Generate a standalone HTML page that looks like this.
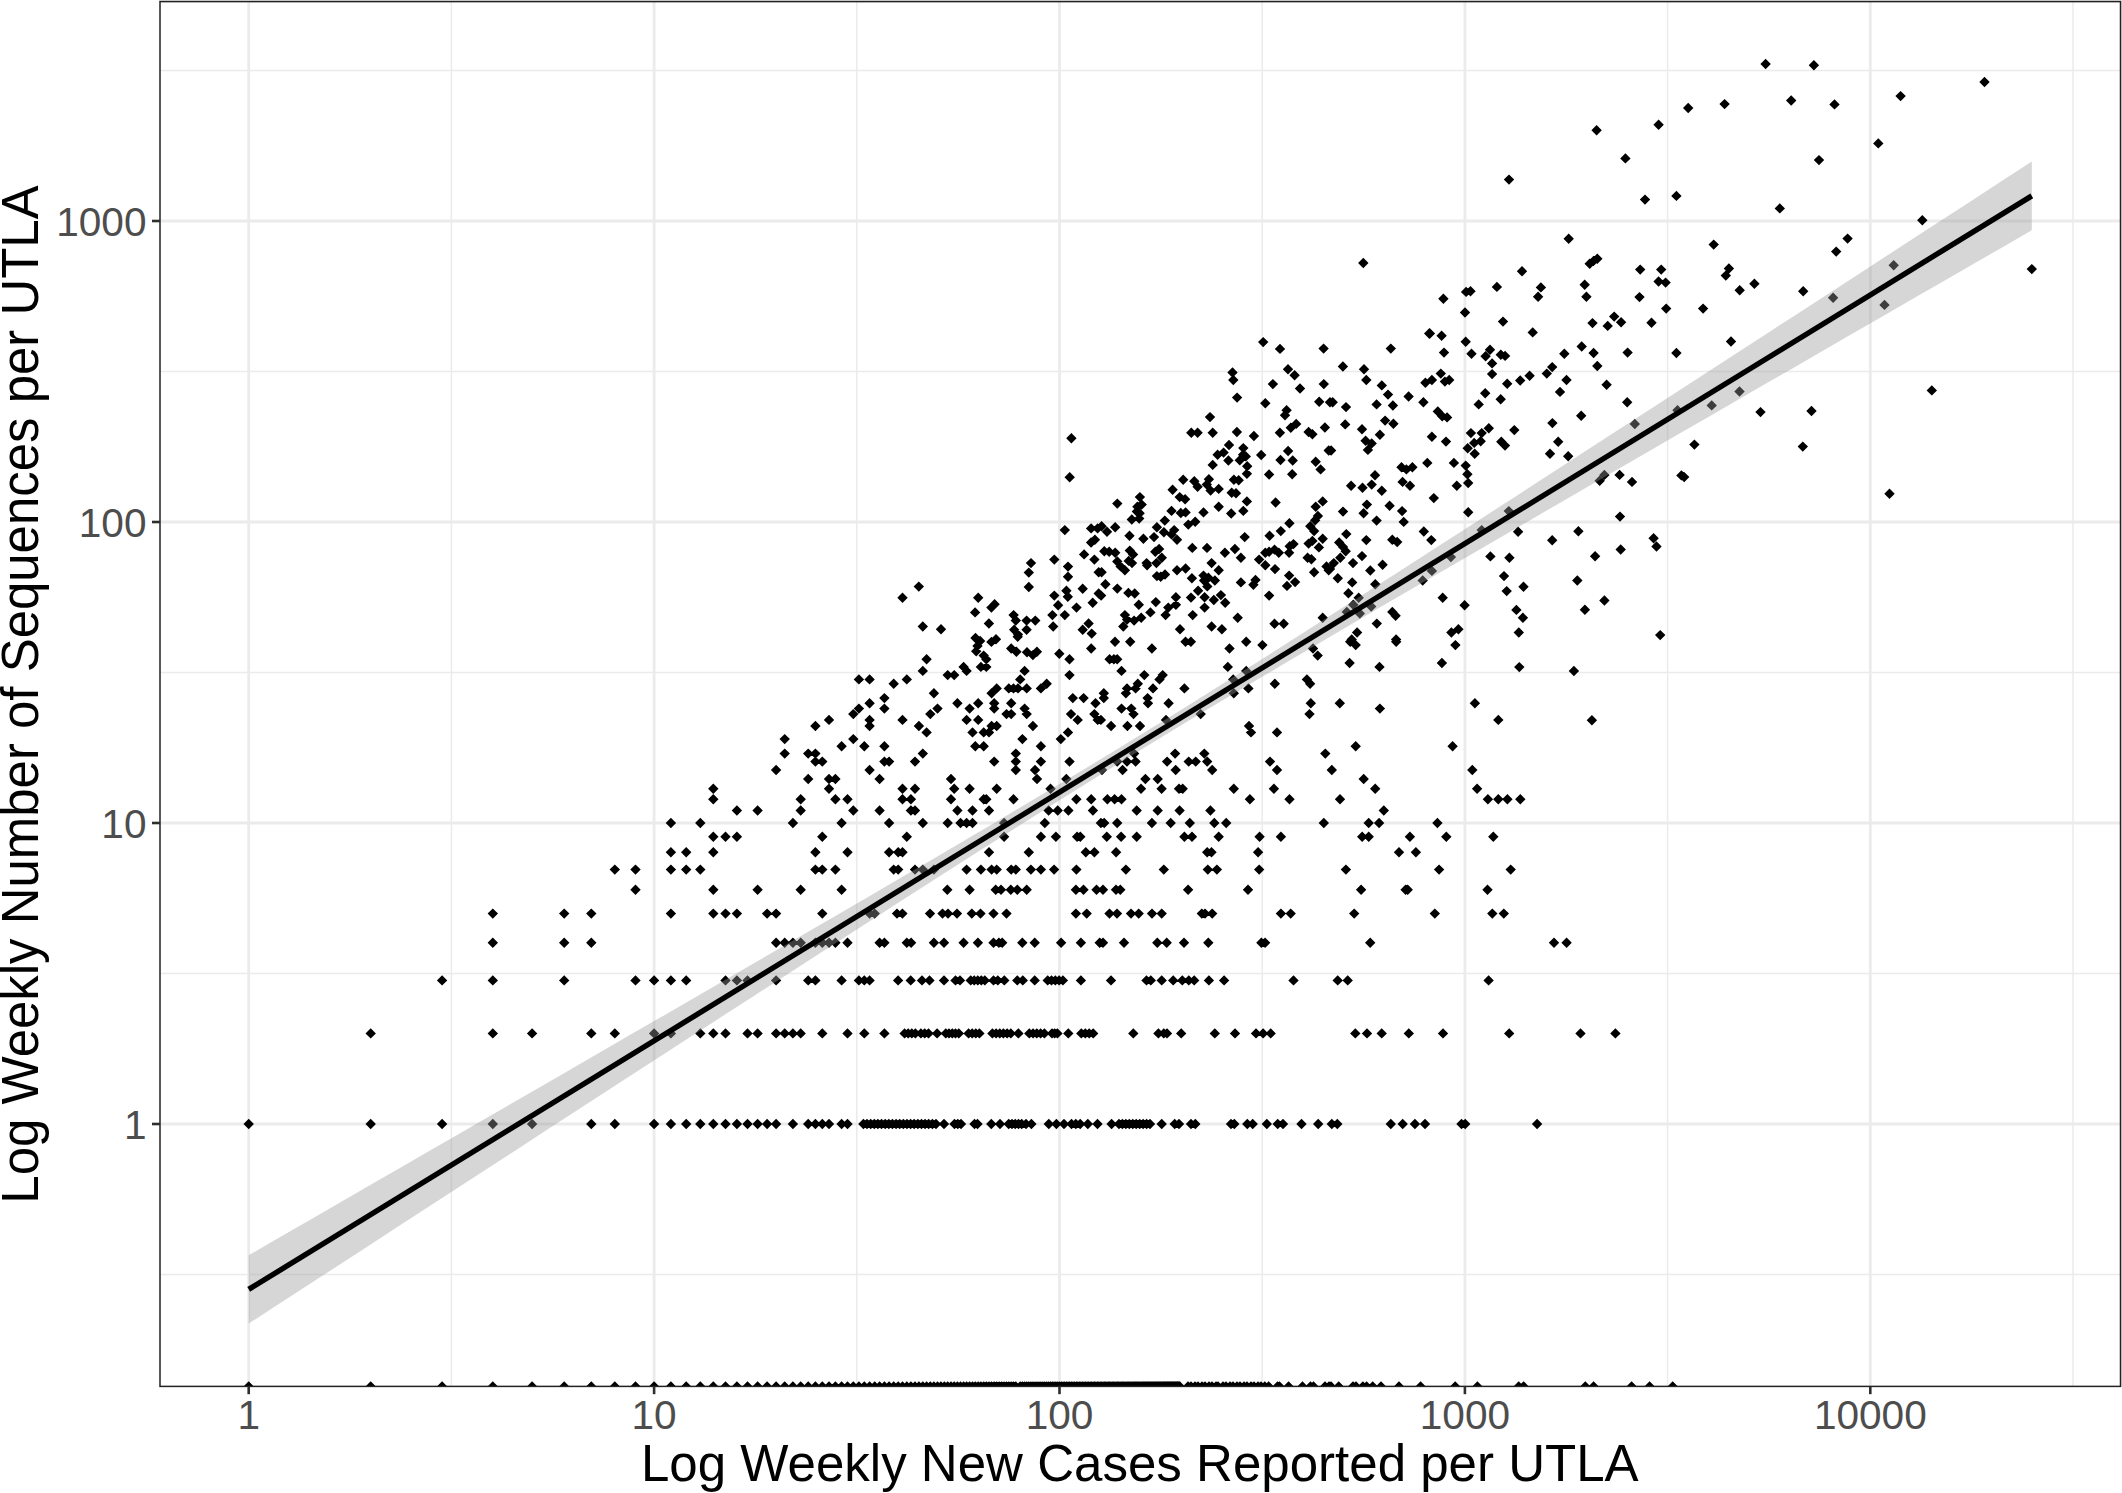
<!DOCTYPE html>
<html><head><meta charset="utf-8"><title>Log Weekly Sequences vs Cases per UTLA</title>
<style>html,body{margin:0;padding:0;background:#fff;}body{width:2122px;height:1493px;position:relative;overflow:hidden;font-family:"Liberation Sans",sans-serif;}svg text{font-family:"Liberation Sans",sans-serif;}</style></head>
<body>
<svg width="2122" height="1493" viewBox="0 0 2122 1493" style="position:absolute;left:0;top:0">
<rect x="0" y="0" width="2122" height="1493" fill="#fff"/>
<defs><clipPath id="c"><rect x="160.0" y="1.6" width="1960.5" height="1384.8000000000002"/></clipPath></defs>
<g clip-path="url(#c)">
<line x1="451.4" x2="451.4" y1="1.6" y2="1386.4" stroke="#ebebeb" stroke-width="1.5"/>
<line x1="856.8" x2="856.8" y1="1.6" y2="1386.4" stroke="#ebebeb" stroke-width="1.5"/>
<line x1="1262.2" x2="1262.2" y1="1.6" y2="1386.4" stroke="#ebebeb" stroke-width="1.5"/>
<line x1="1667.6" x2="1667.6" y1="1.6" y2="1386.4" stroke="#ebebeb" stroke-width="1.5"/>
<line x1="2073.0" x2="2073.0" y1="1.6" y2="1386.4" stroke="#ebebeb" stroke-width="1.5"/>
<line y1="1274.5" y2="1274.5" x1="160.0" x2="2120.5" stroke="#ebebeb" stroke-width="1.5"/>
<line y1="973.5" y2="973.5" x1="160.0" x2="2120.5" stroke="#ebebeb" stroke-width="1.5"/>
<line y1="672.5" y2="672.5" x1="160.0" x2="2120.5" stroke="#ebebeb" stroke-width="1.5"/>
<line y1="371.5" y2="371.5" x1="160.0" x2="2120.5" stroke="#ebebeb" stroke-width="1.5"/>
<line y1="70.5" y2="70.5" x1="160.0" x2="2120.5" stroke="#ebebeb" stroke-width="1.5"/>
<line x1="248.7" x2="248.7" y1="1.6" y2="1386.4" stroke="#ebebeb" stroke-width="2.8"/>
<line x1="654.1" x2="654.1" y1="1.6" y2="1386.4" stroke="#ebebeb" stroke-width="2.8"/>
<line x1="1059.5" x2="1059.5" y1="1.6" y2="1386.4" stroke="#ebebeb" stroke-width="2.8"/>
<line x1="1464.9" x2="1464.9" y1="1.6" y2="1386.4" stroke="#ebebeb" stroke-width="2.8"/>
<line x1="1870.3" x2="1870.3" y1="1.6" y2="1386.4" stroke="#ebebeb" stroke-width="2.8"/>
<line y1="1124.0" y2="1124.0" x1="160.0" x2="2120.5" stroke="#ebebeb" stroke-width="2.8"/>
<line y1="823.0" y2="823.0" x1="160.0" x2="2120.5" stroke="#ebebeb" stroke-width="2.8"/>
<line y1="522.0" y2="522.0" x1="160.0" x2="2120.5" stroke="#ebebeb" stroke-width="2.8"/>
<line y1="221.0" y2="221.0" x1="160.0" x2="2120.5" stroke="#ebebeb" stroke-width="2.8"/>
<path d="M1519.3 661.9l5.2 5.2l-5.2 5.2l-5.2 -5.2zM1573.9 665.8l5.2 5.2l-5.2 5.2l-5.2 -5.2zM1591.9 715.0l5.2 5.2l-5.2 5.2l-5.2 -5.2zM1520.3 794.1l5.2 5.2l-5.2 5.2l-5.2 -5.2zM902.5 592.6l5.2 5.2l-5.2 5.2l-5.2 -5.2zM918.8 581.4l5.2 5.2l-5.2 5.2l-5.2 -5.2zM922.8 621.3l5.2 5.2l-5.2 5.2l-5.2 -5.2zM941.0 624.0l5.2 5.2l-5.2 5.2l-5.2 -5.2zM978.2 592.6l5.2 5.2l-5.2 5.2l-5.2 -5.2zM975.1 607.2l5.2 5.2l-5.2 5.2l-5.2 -5.2zM991.4 602.4l5.2 5.2l-5.2 5.2l-5.2 -5.2zM994.6 599.1l5.2 5.2l-5.2 5.2l-5.2 -5.2zM988.9 618.3l5.2 5.2l-5.2 5.2l-5.2 -5.2zM1013.6 609.9l5.2 5.2l-5.2 5.2l-5.2 -5.2zM1015.8 615.4l5.2 5.2l-5.2 5.2l-5.2 -5.2zM1014.2 624.6l5.2 5.2l-5.2 5.2l-5.2 -5.2zM1018.0 629.4l5.2 5.2l-5.2 5.2l-5.2 -5.2zM1026.6 615.4l5.2 5.2l-5.2 5.2l-5.2 -5.2zM1035.3 615.4l5.2 5.2l-5.2 5.2l-5.2 -5.2zM1026.6 624.6l5.2 5.2l-5.2 5.2l-5.2 -5.2zM1028.8 581.8l5.2 5.2l-5.2 5.2l-5.2 -5.2zM1028.8 567.4l5.2 5.2l-5.2 5.2l-5.2 -5.2zM1031.0 557.9l5.2 5.2l-5.2 5.2l-5.2 -5.2zM1054.3 554.4l5.2 5.2l-5.2 5.2l-5.2 -5.2zM1054.3 590.4l5.2 5.2l-5.2 5.2l-5.2 -5.2zM1058.1 600.0l5.2 5.2l-5.2 5.2l-5.2 -5.2zM1052.4 609.9l5.2 5.2l-5.2 5.2l-5.2 -5.2zM1053.2 621.3l5.2 5.2l-5.2 5.2l-5.2 -5.2zM1064.8 524.9l5.2 5.2l-5.2 5.2l-5.2 -5.2zM1068.0 561.4l5.2 5.2l-5.2 5.2l-5.2 -5.2zM1068.0 571.5l5.2 5.2l-5.2 5.2l-5.2 -5.2zM1066.4 585.6l5.2 5.2l-5.2 5.2l-5.2 -5.2zM1067.8 591.5l5.2 5.2l-5.2 5.2l-5.2 -5.2zM1064.8 609.9l5.2 5.2l-5.2 5.2l-5.2 -5.2zM1076.5 602.4l5.2 5.2l-5.2 5.2l-5.2 -5.2zM1082.7 583.6l5.2 5.2l-5.2 5.2l-5.2 -5.2zM1084.1 549.2l5.2 5.2l-5.2 5.2l-5.2 -5.2zM1091.1 537.3l5.2 5.2l-5.2 5.2l-5.2 -5.2zM1094.9 534.6l5.2 5.2l-5.2 5.2l-5.2 -5.2zM1091.1 523.2l5.2 5.2l-5.2 5.2l-5.2 -5.2zM1097.6 523.2l5.2 5.2l-5.2 5.2l-5.2 -5.2zM1094.4 554.4l5.2 5.2l-5.2 5.2l-5.2 -5.2zM1098.7 567.1l5.2 5.2l-5.2 5.2l-5.2 -5.2zM1098.7 588.3l5.2 5.2l-5.2 5.2l-5.2 -5.2zM1092.7 597.5l5.2 5.2l-5.2 5.2l-5.2 -5.2zM1088.6 618.3l5.2 5.2l-5.2 5.2l-5.2 -5.2zM1082.7 624.6l5.2 5.2l-5.2 5.2l-5.2 -5.2zM1091.7 628.4l5.2 5.2l-5.2 5.2l-5.2 -5.2zM1136.9 506.4l5.2 5.2l-5.2 5.2l-5.2 -5.2zM1139.6 508.1l5.2 5.2l-5.2 5.2l-5.2 -5.2zM1171.5 505.7l5.2 5.2l-5.2 5.2l-5.2 -5.2zM1180.8 507.8l5.2 5.2l-5.2 5.2l-5.2 -5.2zM1185.6 507.2l5.2 5.2l-5.2 5.2l-5.2 -5.2zM1203.5 507.2l5.2 5.2l-5.2 5.2l-5.2 -5.2zM1231.2 508.3l5.2 5.2l-5.2 5.2l-5.2 -5.2zM1243.3 505.7l5.2 5.2l-5.2 5.2l-5.2 -5.2zM1317.9 510.8l5.2 5.2l-5.2 5.2l-5.2 -5.2zM1131.8 514.3l5.2 5.2l-5.2 5.2l-5.2 -5.2zM1139.2 513.3l5.2 5.2l-5.2 5.2l-5.2 -5.2zM1164.8 515.4l5.2 5.2l-5.2 5.2l-5.2 -5.2zM1195.2 516.5l5.2 5.2l-5.2 5.2l-5.2 -5.2zM1188.3 519.4l5.2 5.2l-5.2 5.2l-5.2 -5.2zM1289.4 518.0l5.2 5.2l-5.2 5.2l-5.2 -5.2zM1315.2 515.1l5.2 5.2l-5.2 5.2l-5.2 -5.2zM1310.3 521.1l5.2 5.2l-5.2 5.2l-5.2 -5.2zM1101.6 521.1l5.2 5.2l-5.2 5.2l-5.2 -5.2zM1115.2 522.1l5.2 5.2l-5.2 5.2l-5.2 -5.2zM1107.0 526.5l5.2 5.2l-5.2 5.2l-5.2 -5.2zM1156.9 522.1l5.2 5.2l-5.2 5.2l-5.2 -5.2zM1163.9 527.0l5.2 5.2l-5.2 5.2l-5.2 -5.2zM1174.2 524.9l5.2 5.2l-5.2 5.2l-5.2 -5.2zM1171.5 529.2l5.2 5.2l-5.2 5.2l-5.2 -5.2zM1280.8 525.9l5.2 5.2l-5.2 5.2l-5.2 -5.2zM1314.1 525.9l5.2 5.2l-5.2 5.2l-5.2 -5.2zM1269.6 530.6l5.2 5.2l-5.2 5.2l-5.2 -5.2zM1129.5 530.6l5.2 5.2l-5.2 5.2l-5.2 -5.2zM1143.4 533.5l5.2 5.2l-5.2 5.2l-5.2 -5.2zM1154.0 531.9l5.2 5.2l-5.2 5.2l-5.2 -5.2zM1177.0 534.6l5.2 5.2l-5.2 5.2l-5.2 -5.2zM1244.7 531.9l5.2 5.2l-5.2 5.2l-5.2 -5.2zM1322.7 533.5l5.2 5.2l-5.2 5.2l-5.2 -5.2zM1293.5 538.9l5.2 5.2l-5.2 5.2l-5.2 -5.2zM1289.7 541.1l5.2 5.2l-5.2 5.2l-5.2 -5.2zM1308.6 538.4l5.2 5.2l-5.2 5.2l-5.2 -5.2zM1312.4 535.7l5.2 5.2l-5.2 5.2l-5.2 -5.2zM1318.9 542.2l5.2 5.2l-5.2 5.2l-5.2 -5.2zM1192.3 542.7l5.2 5.2l-5.2 5.2l-5.2 -5.2zM1207.0 542.7l5.2 5.2l-5.2 5.2l-5.2 -5.2zM1234.9 543.8l5.2 5.2l-5.2 5.2l-5.2 -5.2zM1224.9 547.6l5.2 5.2l-5.2 5.2l-5.2 -5.2zM1240.9 552.5l5.2 5.2l-5.2 5.2l-5.2 -5.2zM1104.3 546.0l5.2 5.2l-5.2 5.2l-5.2 -5.2zM1109.2 546.5l5.2 5.2l-5.2 5.2l-5.2 -5.2zM1115.2 547.6l5.2 5.2l-5.2 5.2l-5.2 -5.2zM1129.8 545.4l5.2 5.2l-5.2 5.2l-5.2 -5.2zM1133.1 549.2l5.2 5.2l-5.2 5.2l-5.2 -5.2zM1159.1 543.8l5.2 5.2l-5.2 5.2l-5.2 -5.2zM1155.3 546.5l5.2 5.2l-5.2 5.2l-5.2 -5.2zM1161.8 552.5l5.2 5.2l-5.2 5.2l-5.2 -5.2zM1274.5 544.4l5.2 5.2l-5.2 5.2l-5.2 -5.2zM1278.8 547.6l5.2 5.2l-5.2 5.2l-5.2 -5.2zM1269.1 546.5l5.2 5.2l-5.2 5.2l-5.2 -5.2zM1265.3 547.6l5.2 5.2l-5.2 5.2l-5.2 -5.2zM1289.1 547.6l5.2 5.2l-5.2 5.2l-5.2 -5.2zM1307.6 552.5l5.2 5.2l-5.2 5.2l-5.2 -5.2zM1311.4 554.1l5.2 5.2l-5.2 5.2l-5.2 -5.2zM1259.1 554.4l5.2 5.2l-5.2 5.2l-5.2 -5.2zM1117.3 556.3l5.2 5.2l-5.2 5.2l-5.2 -5.2zM1128.7 555.7l5.2 5.2l-5.2 5.2l-5.2 -5.2zM1132.0 557.9l5.2 5.2l-5.2 5.2l-5.2 -5.2zM1146.6 557.9l5.2 5.2l-5.2 5.2l-5.2 -5.2zM1147.1 560.1l5.2 5.2l-5.2 5.2l-5.2 -5.2zM1156.4 557.9l5.2 5.2l-5.2 5.2l-5.2 -5.2zM1120.6 561.2l5.2 5.2l-5.2 5.2l-5.2 -5.2zM1124.9 565.0l5.2 5.2l-5.2 5.2l-5.2 -5.2zM1177.0 565.0l5.2 5.2l-5.2 5.2l-5.2 -5.2zM1185.6 563.3l5.2 5.2l-5.2 5.2l-5.2 -5.2zM1211.6 557.9l5.2 5.2l-5.2 5.2l-5.2 -5.2zM1218.7 565.0l5.2 5.2l-5.2 5.2l-5.2 -5.2zM1265.3 560.1l5.2 5.2l-5.2 5.2l-5.2 -5.2zM1275.0 563.9l5.2 5.2l-5.2 5.2l-5.2 -5.2zM1326.5 561.2l5.2 5.2l-5.2 5.2l-5.2 -5.2zM1328.7 565.0l5.2 5.2l-5.2 5.2l-5.2 -5.2zM1314.1 567.1l5.2 5.2l-5.2 5.2l-5.2 -5.2zM1101.6 567.1l5.2 5.2l-5.2 5.2l-5.2 -5.2zM1156.9 570.9l5.2 5.2l-5.2 5.2l-5.2 -5.2zM1160.7 571.5l5.2 5.2l-5.2 5.2l-5.2 -5.2zM1165.0 569.3l5.2 5.2l-5.2 5.2l-5.2 -5.2zM1191.9 573.1l5.2 5.2l-5.2 5.2l-5.2 -5.2zM1203.5 570.4l5.2 5.2l-5.2 5.2l-5.2 -5.2zM1208.4 572.5l5.2 5.2l-5.2 5.2l-5.2 -5.2zM1204.1 575.3l5.2 5.2l-5.2 5.2l-5.2 -5.2zM1214.9 575.3l5.2 5.2l-5.2 5.2l-5.2 -5.2zM1207.3 581.2l5.2 5.2l-5.2 5.2l-5.2 -5.2zM1240.9 577.2l5.2 5.2l-5.2 5.2l-5.2 -5.2zM1255.5 574.7l5.2 5.2l-5.2 5.2l-5.2 -5.2zM1253.4 579.6l5.2 5.2l-5.2 5.2l-5.2 -5.2zM1289.1 570.4l5.2 5.2l-5.2 5.2l-5.2 -5.2zM1295.1 576.9l5.2 5.2l-5.2 5.2l-5.2 -5.2zM1287.0 580.7l5.2 5.2l-5.2 5.2l-5.2 -5.2zM1105.4 579.0l5.2 5.2l-5.2 5.2l-5.2 -5.2zM1117.3 583.4l5.2 5.2l-5.2 5.2l-5.2 -5.2zM1198.1 585.6l5.2 5.2l-5.2 5.2l-5.2 -5.2zM1128.4 587.7l5.2 5.2l-5.2 5.2l-5.2 -5.2zM1134.7 588.3l5.2 5.2l-5.2 5.2l-5.2 -5.2zM1175.9 592.1l5.2 5.2l-5.2 5.2l-5.2 -5.2zM1191.0 592.4l5.2 5.2l-5.2 5.2l-5.2 -5.2zM1204.6 592.1l5.2 5.2l-5.2 5.2l-5.2 -5.2zM1213.8 594.8l5.2 5.2l-5.2 5.2l-5.2 -5.2zM1220.9 589.9l5.2 5.2l-5.2 5.2l-5.2 -5.2zM1225.2 597.5l5.2 5.2l-5.2 5.2l-5.2 -5.2zM1269.1 590.4l5.2 5.2l-5.2 5.2l-5.2 -5.2zM1101.1 590.4l5.2 5.2l-5.2 5.2l-5.2 -5.2zM1155.8 596.9l5.2 5.2l-5.2 5.2l-5.2 -5.2zM1138.8 599.6l5.2 5.2l-5.2 5.2l-5.2 -5.2zM1175.9 599.6l5.2 5.2l-5.2 5.2l-5.2 -5.2zM1168.3 602.4l5.2 5.2l-5.2 5.2l-5.2 -5.2zM1204.6 602.4l5.2 5.2l-5.2 5.2l-5.2 -5.2zM1150.4 607.2l5.2 5.2l-5.2 5.2l-5.2 -5.2zM1165.6 609.9l5.2 5.2l-5.2 5.2l-5.2 -5.2zM1192.7 609.9l5.2 5.2l-5.2 5.2l-5.2 -5.2zM1237.7 612.6l5.2 5.2l-5.2 5.2l-5.2 -5.2zM1124.9 609.9l5.2 5.2l-5.2 5.2l-5.2 -5.2zM1127.1 614.3l5.2 5.2l-5.2 5.2l-5.2 -5.2zM1134.1 615.4l5.2 5.2l-5.2 5.2l-5.2 -5.2zM1141.2 612.6l5.2 5.2l-5.2 5.2l-5.2 -5.2zM1123.3 621.3l5.2 5.2l-5.2 5.2l-5.2 -5.2zM1322.7 612.6l5.2 5.2l-5.2 5.2l-5.2 -5.2zM1274.5 618.6l5.2 5.2l-5.2 5.2l-5.2 -5.2zM1283.7 618.6l5.2 5.2l-5.2 5.2l-5.2 -5.2zM1211.6 621.3l5.2 5.2l-5.2 5.2l-5.2 -5.2zM1221.9 624.0l5.2 5.2l-5.2 5.2l-5.2 -5.2zM1180.0 624.0l5.2 5.2l-5.2 5.2l-5.2 -5.2zM975.5 632.8l5.2 5.2l-5.2 5.2l-5.2 -5.2zM980.1 635.8l5.2 5.2l-5.2 5.2l-5.2 -5.2zM977.5 640.7l5.2 5.2l-5.2 5.2l-5.2 -5.2zM976.2 646.0l5.2 5.2l-5.2 5.2l-5.2 -5.2zM991.4 636.7l5.2 5.2l-5.2 5.2l-5.2 -5.2zM996.0 634.1l5.2 5.2l-5.2 5.2l-5.2 -5.2zM1017.7 631.5l5.2 5.2l-5.2 5.2l-5.2 -5.2zM1011.2 643.3l5.2 5.2l-5.2 5.2l-5.2 -5.2zM1016.4 646.6l5.2 5.2l-5.2 5.2l-5.2 -5.2zM1027.0 647.0l5.2 5.2l-5.2 5.2l-5.2 -5.2zM1036.9 646.6l5.2 5.2l-5.2 5.2l-5.2 -5.2zM1059.3 648.6l5.2 5.2l-5.2 5.2l-5.2 -5.2zM1032.9 649.9l5.2 5.2l-5.2 5.2l-5.2 -5.2zM1343.0 506.4l5.2 5.2l-5.2 5.2l-5.2 -5.2zM1363.6 508.1l5.2 5.2l-5.2 5.2l-5.2 -5.2zM1402.1 505.9l5.2 5.2l-5.2 5.2l-5.2 -5.2zM1468.2 507.0l5.2 5.2l-5.2 5.2l-5.2 -5.2zM1376.6 515.4l5.2 5.2l-5.2 5.2l-5.2 -5.2zM1403.7 516.7l5.2 5.2l-5.2 5.2l-5.2 -5.2zM1346.3 528.9l5.2 5.2l-5.2 5.2l-5.2 -5.2zM1366.3 534.9l5.2 5.2l-5.2 5.2l-5.2 -5.2zM1392.3 534.6l5.2 5.2l-5.2 5.2l-5.2 -5.2zM1397.2 536.8l5.2 5.2l-5.2 5.2l-5.2 -5.2zM1423.8 526.3l5.2 5.2l-5.2 5.2l-5.2 -5.2zM1431.3 534.9l5.2 5.2l-5.2 5.2l-5.2 -5.2zM1339.2 537.3l5.2 5.2l-5.2 5.2l-5.2 -5.2zM1343.0 541.7l5.2 5.2l-5.2 5.2l-5.2 -5.2zM1345.7 546.0l5.2 5.2l-5.2 5.2l-5.2 -5.2zM1340.3 552.5l5.2 5.2l-5.2 5.2l-5.2 -5.2zM1333.8 557.9l5.2 5.2l-5.2 5.2l-5.2 -5.2zM1330.0 563.9l5.2 5.2l-5.2 5.2l-5.2 -5.2zM1362.0 550.9l5.2 5.2l-5.2 5.2l-5.2 -5.2zM1353.0 557.9l5.2 5.2l-5.2 5.2l-5.2 -5.2zM1382.6 559.5l5.2 5.2l-5.2 5.2l-5.2 -5.2zM1370.3 565.3l5.2 5.2l-5.2 5.2l-5.2 -5.2zM1337.8 573.1l5.2 5.2l-5.2 5.2l-5.2 -5.2zM1352.2 577.2l5.2 5.2l-5.2 5.2l-5.2 -5.2zM1375.3 579.0l5.2 5.2l-5.2 5.2l-5.2 -5.2zM1348.4 588.0l5.2 5.2l-5.2 5.2l-5.2 -5.2zM1358.7 592.6l5.2 5.2l-5.2 5.2l-5.2 -5.2zM1353.3 599.6l5.2 5.2l-5.2 5.2l-5.2 -5.2zM1346.8 606.7l5.2 5.2l-5.2 5.2l-5.2 -5.2zM1359.8 608.3l5.2 5.2l-5.2 5.2l-5.2 -5.2zM1371.2 601.3l5.2 5.2l-5.2 5.2l-5.2 -5.2zM1422.7 575.3l5.2 5.2l-5.2 5.2l-5.2 -5.2zM1431.9 565.7l5.2 5.2l-5.2 5.2l-5.2 -5.2zM1450.9 551.9l5.2 5.2l-5.2 5.2l-5.2 -5.2zM1481.7 524.9l5.2 5.2l-5.2 5.2l-5.2 -5.2zM1508.8 505.9l5.2 5.2l-5.2 5.2l-5.2 -5.2zM1518.1 526.5l5.2 5.2l-5.2 5.2l-5.2 -5.2zM1552.2 535.1l5.2 5.2l-5.2 5.2l-5.2 -5.2zM1490.4 551.2l5.2 5.2l-5.2 5.2l-5.2 -5.2zM1509.4 552.5l5.2 5.2l-5.2 5.2l-5.2 -5.2zM1504.0 570.9l5.2 5.2l-5.2 5.2l-5.2 -5.2zM1523.5 581.5l5.2 5.2l-5.2 5.2l-5.2 -5.2zM1506.7 585.9l5.2 5.2l-5.2 5.2l-5.2 -5.2zM1442.7 592.6l5.2 5.2l-5.2 5.2l-5.2 -5.2zM1464.6 600.0l5.2 5.2l-5.2 5.2l-5.2 -5.2zM1516.4 604.7l5.2 5.2l-5.2 5.2l-5.2 -5.2zM1522.9 612.6l5.2 5.2l-5.2 5.2l-5.2 -5.2zM1392.3 606.7l5.2 5.2l-5.2 5.2l-5.2 -5.2zM1395.6 610.5l5.2 5.2l-5.2 5.2l-5.2 -5.2zM1376.8 618.4l5.2 5.2l-5.2 5.2l-5.2 -5.2zM1357.1 627.3l5.2 5.2l-5.2 5.2l-5.2 -5.2zM1451.4 627.3l5.2 5.2l-5.2 5.2l-5.2 -5.2zM1458.4 624.0l5.2 5.2l-5.2 5.2l-5.2 -5.2zM1518.8 627.3l5.2 5.2l-5.2 5.2l-5.2 -5.2zM1351.7 634.3l5.2 5.2l-5.2 5.2l-5.2 -5.2zM1396.1 634.3l5.2 5.2l-5.2 5.2l-5.2 -5.2zM1566.5 374.8l5.2 5.2l-5.2 5.2l-5.2 -5.2zM1606.6 379.6l5.2 5.2l-5.2 5.2l-5.2 -5.2zM1627.2 397.1l5.2 5.2l-5.2 5.2l-5.2 -5.2zM1581.2 410.6l5.2 5.2l-5.2 5.2l-5.2 -5.2zM1634.8 418.8l5.2 5.2l-5.2 5.2l-5.2 -5.2zM1677.5 405.1l5.2 5.2l-5.2 5.2l-5.2 -5.2zM1711.7 400.2l5.2 5.2l-5.2 5.2l-5.2 -5.2zM1739.5 386.3l5.2 5.2l-5.2 5.2l-5.2 -5.2zM1760.5 406.9l5.2 5.2l-5.2 5.2l-5.2 -5.2zM1811.5 405.8l5.2 5.2l-5.2 5.2l-5.2 -5.2zM1931.8 385.2l5.2 5.2l-5.2 5.2l-5.2 -5.2zM1568.2 451.1l5.2 5.2l-5.2 5.2l-5.2 -5.2zM1694.4 439.4l5.2 5.2l-5.2 5.2l-5.2 -5.2zM1802.8 441.4l5.2 5.2l-5.2 5.2l-5.2 -5.2zM1604.4 469.7l5.2 5.2l-5.2 5.2l-5.2 -5.2zM1599.7 475.6l5.2 5.2l-5.2 5.2l-5.2 -5.2zM1619.6 469.7l5.2 5.2l-5.2 5.2l-5.2 -5.2zM1632.0 476.7l5.2 5.2l-5.2 5.2l-5.2 -5.2zM1681.4 470.2l5.2 5.2l-5.2 5.2l-5.2 -5.2zM1684.2 471.9l5.2 5.2l-5.2 5.2l-5.2 -5.2zM1889.5 488.6l5.2 5.2l-5.2 5.2l-5.2 -5.2zM1620.0 511.4l5.2 5.2l-5.2 5.2l-5.2 -5.2zM1578.4 526.1l5.2 5.2l-5.2 5.2l-5.2 -5.2zM1653.6 533.0l5.2 5.2l-5.2 5.2l-5.2 -5.2zM1656.5 541.3l5.2 5.2l-5.2 5.2l-5.2 -5.2zM1620.7 544.3l5.2 5.2l-5.2 5.2l-5.2 -5.2zM1595.1 551.0l5.2 5.2l-5.2 5.2l-5.2 -5.2zM1577.3 575.3l5.2 5.2l-5.2 5.2l-5.2 -5.2zM1604.4 595.3l5.2 5.2l-5.2 5.2l-5.2 -5.2zM1584.9 604.6l5.2 5.2l-5.2 5.2l-5.2 -5.2zM1660.2 629.9l5.2 5.2l-5.2 5.2l-5.2 -5.2zM1233.3 374.8l5.2 5.2l-5.2 5.2l-5.2 -5.2zM1272.9 378.9l5.2 5.2l-5.2 5.2l-5.2 -5.2zM1300.0 383.3l5.2 5.2l-5.2 5.2l-5.2 -5.2zM1323.8 378.9l5.2 5.2l-5.2 5.2l-5.2 -5.2zM1237.1 392.4l5.2 5.2l-5.2 5.2l-5.2 -5.2zM1265.3 398.1l5.2 5.2l-5.2 5.2l-5.2 -5.2zM1319.2 396.5l5.2 5.2l-5.2 5.2l-5.2 -5.2zM1330.0 397.0l5.2 5.2l-5.2 5.2l-5.2 -5.2zM1286.6 405.1l5.2 5.2l-5.2 5.2l-5.2 -5.2zM1285.0 410.0l5.2 5.2l-5.2 5.2l-5.2 -5.2zM1210.0 411.9l5.2 5.2l-5.2 5.2l-5.2 -5.2zM1296.2 418.7l5.2 5.2l-5.2 5.2l-5.2 -5.2zM1290.8 422.5l5.2 5.2l-5.2 5.2l-5.2 -5.2zM1324.9 422.3l5.2 5.2l-5.2 5.2l-5.2 -5.2zM1191.3 427.6l5.2 5.2l-5.2 5.2l-5.2 -5.2zM1197.6 427.6l5.2 5.2l-5.2 5.2l-5.2 -5.2zM1212.7 427.6l5.2 5.2l-5.2 5.2l-5.2 -5.2zM1236.9 426.8l5.2 5.2l-5.2 5.2l-5.2 -5.2zM1253.9 430.8l5.2 5.2l-5.2 5.2l-5.2 -5.2zM1279.9 427.6l5.2 5.2l-5.2 5.2l-5.2 -5.2zM1308.6 426.8l5.2 5.2l-5.2 5.2l-5.2 -5.2zM1312.4 429.0l5.2 5.2l-5.2 5.2l-5.2 -5.2zM1229.0 439.8l5.2 5.2l-5.2 5.2l-5.2 -5.2zM1243.3 442.9l5.2 5.2l-5.2 5.2l-5.2 -5.2zM1223.6 447.4l5.2 5.2l-5.2 5.2l-5.2 -5.2zM1217.6 449.6l5.2 5.2l-5.2 5.2l-5.2 -5.2zM1243.1 449.6l5.2 5.2l-5.2 5.2l-5.2 -5.2zM1245.8 451.2l5.2 5.2l-5.2 5.2l-5.2 -5.2zM1239.8 455.0l5.2 5.2l-5.2 5.2l-5.2 -5.2zM1228.4 455.3l5.2 5.2l-5.2 5.2l-5.2 -5.2zM1261.2 449.8l5.2 5.2l-5.2 5.2l-5.2 -5.2zM1288.1 445.8l5.2 5.2l-5.2 5.2l-5.2 -5.2zM1328.7 445.3l5.2 5.2l-5.2 5.2l-5.2 -5.2zM1280.5 454.8l5.2 5.2l-5.2 5.2l-5.2 -5.2zM1292.7 455.3l5.2 5.2l-5.2 5.2l-5.2 -5.2zM1315.7 456.6l5.2 5.2l-5.2 5.2l-5.2 -5.2zM1212.7 459.7l5.2 5.2l-5.2 5.2l-5.2 -5.2zM1247.2 461.0l5.2 5.2l-5.2 5.2l-5.2 -5.2zM1246.9 468.6l5.2 5.2l-5.2 5.2l-5.2 -5.2zM1320.6 464.2l5.2 5.2l-5.2 5.2l-5.2 -5.2zM1269.1 469.3l5.2 5.2l-5.2 5.2l-5.2 -5.2zM1292.2 469.1l5.2 5.2l-5.2 5.2l-5.2 -5.2zM1183.2 474.5l5.2 5.2l-5.2 5.2l-5.2 -5.2zM1194.3 476.1l5.2 5.2l-5.2 5.2l-5.2 -5.2zM1197.6 481.6l5.2 5.2l-5.2 5.2l-5.2 -5.2zM1208.9 474.0l5.2 5.2l-5.2 5.2l-5.2 -5.2zM1206.8 479.4l5.2 5.2l-5.2 5.2l-5.2 -5.2zM1210.6 485.4l5.2 5.2l-5.2 5.2l-5.2 -5.2zM1218.7 483.7l5.2 5.2l-5.2 5.2l-5.2 -5.2zM1233.9 474.5l5.2 5.2l-5.2 5.2l-5.2 -5.2zM1238.7 475.1l5.2 5.2l-5.2 5.2l-5.2 -5.2zM1231.7 487.5l5.2 5.2l-5.2 5.2l-5.2 -5.2zM1236.0 488.1l5.2 5.2l-5.2 5.2l-5.2 -5.2zM1172.6 484.5l5.2 5.2l-5.2 5.2l-5.2 -5.2zM1179.7 491.9l5.2 5.2l-5.2 5.2l-5.2 -5.2zM1185.1 494.0l5.2 5.2l-5.2 5.2l-5.2 -5.2zM1139.9 491.9l5.2 5.2l-5.2 5.2l-5.2 -5.2zM1141.7 499.4l5.2 5.2l-5.2 5.2l-5.2 -5.2zM1137.4 501.6l5.2 5.2l-5.2 5.2l-5.2 -5.2zM1117.3 498.4l5.2 5.2l-5.2 5.2l-5.2 -5.2zM1246.9 496.2l5.2 5.2l-5.2 5.2l-5.2 -5.2zM1275.6 497.3l5.2 5.2l-5.2 5.2l-5.2 -5.2zM1322.7 496.2l5.2 5.2l-5.2 5.2l-5.2 -5.2zM1315.7 501.6l5.2 5.2l-5.2 5.2l-5.2 -5.2zM1218.7 501.6l5.2 5.2l-5.2 5.2l-5.2 -5.2zM1071.4 433.1l5.2 5.2l-5.2 5.2l-5.2 -5.2zM1069.7 472.0l5.2 5.2l-5.2 5.2l-5.2 -5.2zM1366.3 374.8l5.2 5.2l-5.2 5.2l-5.2 -5.2zM1381.8 380.2l5.2 5.2l-5.2 5.2l-5.2 -5.2zM1388.0 389.4l5.2 5.2l-5.2 5.2l-5.2 -5.2zM1408.6 391.3l5.2 5.2l-5.2 5.2l-5.2 -5.2zM1425.4 377.5l5.2 5.2l-5.2 5.2l-5.2 -5.2zM1431.9 374.8l5.2 5.2l-5.2 5.2l-5.2 -5.2zM1444.9 376.4l5.2 5.2l-5.2 5.2l-5.2 -5.2zM1449.2 374.8l5.2 5.2l-5.2 5.2l-5.2 -5.2zM1507.2 378.6l5.2 5.2l-5.2 5.2l-5.2 -5.2zM1520.2 375.3l5.2 5.2l-5.2 5.2l-5.2 -5.2zM1485.2 388.0l5.2 5.2l-5.2 5.2l-5.2 -5.2zM1500.7 394.1l5.2 5.2l-5.2 5.2l-5.2 -5.2zM1478.7 399.2l5.2 5.2l-5.2 5.2l-5.2 -5.2zM1560.0 386.7l5.2 5.2l-5.2 5.2l-5.2 -5.2zM1332.7 397.0l5.2 5.2l-5.2 5.2l-5.2 -5.2zM1346.0 401.9l5.2 5.2l-5.2 5.2l-5.2 -5.2zM1376.6 399.2l5.2 5.2l-5.2 5.2l-5.2 -5.2zM1392.9 400.3l5.2 5.2l-5.2 5.2l-5.2 -5.2zM1423.4 397.0l5.2 5.2l-5.2 5.2l-5.2 -5.2zM1437.8 406.2l5.2 5.2l-5.2 5.2l-5.2 -5.2zM1442.2 411.1l5.2 5.2l-5.2 5.2l-5.2 -5.2zM1447.1 412.2l5.2 5.2l-5.2 5.2l-5.2 -5.2zM1345.2 419.2l5.2 5.2l-5.2 5.2l-5.2 -5.2zM1385.1 415.4l5.2 5.2l-5.2 5.2l-5.2 -5.2zM1393.4 418.5l5.2 5.2l-5.2 5.2l-5.2 -5.2zM1362.0 424.1l5.2 5.2l-5.2 5.2l-5.2 -5.2zM1379.9 429.5l5.2 5.2l-5.2 5.2l-5.2 -5.2zM1552.4 417.9l5.2 5.2l-5.2 5.2l-5.2 -5.2zM1488.8 423.0l5.2 5.2l-5.2 5.2l-5.2 -5.2zM1514.3 424.9l5.2 5.2l-5.2 5.2l-5.2 -5.2zM1470.9 427.9l5.2 5.2l-5.2 5.2l-5.2 -5.2zM1481.7 427.9l5.2 5.2l-5.2 5.2l-5.2 -5.2zM1431.9 431.5l5.2 5.2l-5.2 5.2l-5.2 -5.2zM1446.0 436.4l5.2 5.2l-5.2 5.2l-5.2 -5.2zM1480.7 436.0l5.2 5.2l-5.2 5.2l-5.2 -5.2zM1474.2 437.7l5.2 5.2l-5.2 5.2l-5.2 -5.2zM1467.7 443.1l5.2 5.2l-5.2 5.2l-5.2 -5.2zM1501.3 436.6l5.2 5.2l-5.2 5.2l-5.2 -5.2zM1505.0 440.4l5.2 5.2l-5.2 5.2l-5.2 -5.2zM1558.2 436.6l5.2 5.2l-5.2 5.2l-5.2 -5.2zM1365.6 435.5l5.2 5.2l-5.2 5.2l-5.2 -5.2zM1371.7 438.2l5.2 5.2l-5.2 5.2l-5.2 -5.2zM1367.9 444.7l5.2 5.2l-5.2 5.2l-5.2 -5.2zM1331.1 445.3l5.2 5.2l-5.2 5.2l-5.2 -5.2zM1474.7 448.5l5.2 5.2l-5.2 5.2l-5.2 -5.2zM1550.0 448.5l5.2 5.2l-5.2 5.2l-5.2 -5.2zM1427.3 457.7l5.2 5.2l-5.2 5.2l-5.2 -5.2zM1453.9 457.7l5.2 5.2l-5.2 5.2l-5.2 -5.2zM1465.7 460.4l5.2 5.2l-5.2 5.2l-5.2 -5.2zM1401.5 462.1l5.2 5.2l-5.2 5.2l-5.2 -5.2zM1406.4 464.2l5.2 5.2l-5.2 5.2l-5.2 -5.2zM1412.4 462.1l5.2 5.2l-5.2 5.2l-5.2 -5.2zM1467.4 469.1l5.2 5.2l-5.2 5.2l-5.2 -5.2zM1375.0 470.0l5.2 5.2l-5.2 5.2l-5.2 -5.2zM1402.6 476.7l5.2 5.2l-5.2 5.2l-5.2 -5.2zM1410.0 480.5l5.2 5.2l-5.2 5.2l-5.2 -5.2zM1456.8 480.5l5.2 5.2l-5.2 5.2l-5.2 -5.2zM1468.2 477.8l5.2 5.2l-5.2 5.2l-5.2 -5.2zM1351.1 480.5l5.2 5.2l-5.2 5.2l-5.2 -5.2zM1362.5 482.6l5.2 5.2l-5.2 5.2l-5.2 -5.2zM1371.7 479.4l5.2 5.2l-5.2 5.2l-5.2 -5.2zM1381.8 485.6l5.2 5.2l-5.2 5.2l-5.2 -5.2zM1433.8 492.9l5.2 5.2l-5.2 5.2l-5.2 -5.2zM1366.9 499.4l5.2 5.2l-5.2 5.2l-5.2 -5.2zM1389.6 500.5l5.2 5.2l-5.2 5.2l-5.2 -5.2zM1363.3 257.8l5.2 5.2l-5.2 5.2l-5.2 -5.2zM1263.2 336.9l5.2 5.2l-5.2 5.2l-5.2 -5.2zM1280.0 343.7l5.2 5.2l-5.2 5.2l-5.2 -5.2zM1323.6 343.4l5.2 5.2l-5.2 5.2l-5.2 -5.2zM1390.8 343.4l5.2 5.2l-5.2 5.2l-5.2 -5.2zM1429.2 328.3l5.2 5.2l-5.2 5.2l-5.2 -5.2zM1288.0 364.0l5.2 5.2l-5.2 5.2l-5.2 -5.2zM1294.6 370.0l5.2 5.2l-5.2 5.2l-5.2 -5.2zM1342.9 361.3l5.2 5.2l-5.2 5.2l-5.2 -5.2zM1364.0 364.0l5.2 5.2l-5.2 5.2l-5.2 -5.2zM1232.5 367.3l5.2 5.2l-5.2 5.2l-5.2 -5.2zM1596.6 125.0l5.2 5.2l-5.2 5.2l-5.2 -5.2zM1658.6 119.6l5.2 5.2l-5.2 5.2l-5.2 -5.2zM1625.4 153.2l5.2 5.2l-5.2 5.2l-5.2 -5.2zM1509.0 174.4l5.2 5.2l-5.2 5.2l-5.2 -5.2zM1645.0 194.4l5.2 5.2l-5.2 5.2l-5.2 -5.2zM1676.4 190.7l5.2 5.2l-5.2 5.2l-5.2 -5.2zM1819.0 154.9l5.2 5.2l-5.2 5.2l-5.2 -5.2zM1779.8 203.2l5.2 5.2l-5.2 5.2l-5.2 -5.2zM1568.7 233.6l5.2 5.2l-5.2 5.2l-5.2 -5.2zM1713.7 239.4l5.2 5.2l-5.2 5.2l-5.2 -5.2zM1847.6 233.4l5.2 5.2l-5.2 5.2l-5.2 -5.2zM1836.2 246.4l5.2 5.2l-5.2 5.2l-5.2 -5.2zM1597.3 253.5l5.2 5.2l-5.2 5.2l-5.2 -5.2zM1589.7 258.5l5.2 5.2l-5.2 5.2l-5.2 -5.2zM1593.6 255.7l5.2 5.2l-5.2 5.2l-5.2 -5.2zM1522.0 266.1l5.2 5.2l-5.2 5.2l-5.2 -5.2zM1640.2 264.4l5.2 5.2l-5.2 5.2l-5.2 -5.2zM1661.2 264.4l5.2 5.2l-5.2 5.2l-5.2 -5.2zM1728.9 263.3l5.2 5.2l-5.2 5.2l-5.2 -5.2zM1725.8 270.4l5.2 5.2l-5.2 5.2l-5.2 -5.2zM1658.6 276.3l5.2 5.2l-5.2 5.2l-5.2 -5.2zM1665.6 277.4l5.2 5.2l-5.2 5.2l-5.2 -5.2zM1754.4 278.5l5.2 5.2l-5.2 5.2l-5.2 -5.2zM1739.7 285.0l5.2 5.2l-5.2 5.2l-5.2 -5.2zM1803.2 286.1l5.2 5.2l-5.2 5.2l-5.2 -5.2zM1833.1 292.6l5.2 5.2l-5.2 5.2l-5.2 -5.2zM1496.9 281.7l5.2 5.2l-5.2 5.2l-5.2 -5.2zM1540.9 282.2l5.2 5.2l-5.2 5.2l-5.2 -5.2zM1538.1 291.5l5.2 5.2l-5.2 5.2l-5.2 -5.2zM1584.7 279.6l5.2 5.2l-5.2 5.2l-5.2 -5.2zM1586.4 291.5l5.2 5.2l-5.2 5.2l-5.2 -5.2zM1639.5 291.9l5.2 5.2l-5.2 5.2l-5.2 -5.2zM1466.1 286.7l5.2 5.2l-5.2 5.2l-5.2 -5.2zM1470.5 286.1l5.2 5.2l-5.2 5.2l-5.2 -5.2zM1443.4 293.6l5.2 5.2l-5.2 5.2l-5.2 -5.2zM1465.0 307.3l5.2 5.2l-5.2 5.2l-5.2 -5.2zM1666.2 303.4l5.2 5.2l-5.2 5.2l-5.2 -5.2zM1703.1 303.4l5.2 5.2l-5.2 5.2l-5.2 -5.2zM1503.0 316.4l5.2 5.2l-5.2 5.2l-5.2 -5.2zM1592.5 317.9l5.2 5.2l-5.2 5.2l-5.2 -5.2zM1614.2 311.4l5.2 5.2l-5.2 5.2l-5.2 -5.2zM1621.1 317.1l5.2 5.2l-5.2 5.2l-5.2 -5.2zM1607.7 320.7l5.2 5.2l-5.2 5.2l-5.2 -5.2zM1651.5 317.5l5.2 5.2l-5.2 5.2l-5.2 -5.2zM1429.9 328.3l5.2 5.2l-5.2 5.2l-5.2 -5.2zM1441.6 330.5l5.2 5.2l-5.2 5.2l-5.2 -5.2zM1532.7 327.2l5.2 5.2l-5.2 5.2l-5.2 -5.2zM1465.7 336.6l5.2 5.2l-5.2 5.2l-5.2 -5.2zM1731.0 336.3l5.2 5.2l-5.2 5.2l-5.2 -5.2zM1444.0 347.4l5.2 5.2l-5.2 5.2l-5.2 -5.2zM1471.5 348.5l5.2 5.2l-5.2 5.2l-5.2 -5.2zM1490.0 344.6l5.2 5.2l-5.2 5.2l-5.2 -5.2zM1485.6 351.1l5.2 5.2l-5.2 5.2l-5.2 -5.2zM1500.8 349.6l5.2 5.2l-5.2 5.2l-5.2 -5.2zM1505.1 350.7l5.2 5.2l-5.2 5.2l-5.2 -5.2zM1492.1 358.2l5.2 5.2l-5.2 5.2l-5.2 -5.2zM1564.3 348.5l5.2 5.2l-5.2 5.2l-5.2 -5.2zM1581.7 341.3l5.2 5.2l-5.2 5.2l-5.2 -5.2zM1593.6 347.8l5.2 5.2l-5.2 5.2l-5.2 -5.2zM1627.6 347.4l5.2 5.2l-5.2 5.2l-5.2 -5.2zM1676.4 347.8l5.2 5.2l-5.2 5.2l-5.2 -5.2zM1597.3 360.8l5.2 5.2l-5.2 5.2l-5.2 -5.2zM1552.2 361.9l5.2 5.2l-5.2 5.2l-5.2 -5.2zM1546.8 368.4l5.2 5.2l-5.2 5.2l-5.2 -5.2zM1492.1 368.9l5.2 5.2l-5.2 5.2l-5.2 -5.2zM1529.6 370.6l5.2 5.2l-5.2 5.2l-5.2 -5.2zM1440.8 368.4l5.2 5.2l-5.2 5.2l-5.2 -5.2zM1765.6 58.8l5.2 5.2l-5.2 5.2l-5.2 -5.2zM1813.9 60.1l5.2 5.2l-5.2 5.2l-5.2 -5.2zM1984.5 76.8l5.2 5.2l-5.2 5.2l-5.2 -5.2zM1900.6 90.9l5.2 5.2l-5.2 5.2l-5.2 -5.2zM1791.2 95.3l5.2 5.2l-5.2 5.2l-5.2 -5.2zM1834.5 99.2l5.2 5.2l-5.2 5.2l-5.2 -5.2zM1724.6 98.9l5.2 5.2l-5.2 5.2l-5.2 -5.2zM1688.2 102.8l5.2 5.2l-5.2 5.2l-5.2 -5.2zM1878.3 138.2l5.2 5.2l-5.2 5.2l-5.2 -5.2zM1922.3 215.1l5.2 5.2l-5.2 5.2l-5.2 -5.2zM1893.7 260.0l5.2 5.2l-5.2 5.2l-5.2 -5.2zM2031.8 263.9l5.2 5.2l-5.2 5.2l-5.2 -5.2zM1884.5 299.7l5.2 5.2l-5.2 5.2l-5.2 -5.2zM248.7 1118.8l5.2 5.2l-5.2 5.2l-5.2 -5.2zM370.7 1118.8l5.2 5.2l-5.2 5.2l-5.2 -5.2zM442.1 1118.8l5.2 5.2l-5.2 5.2l-5.2 -5.2zM492.8 1118.8l5.2 5.2l-5.2 5.2l-5.2 -5.2zM532.1 1118.8l5.2 5.2l-5.2 5.2l-5.2 -5.2zM591.3 1118.8l5.2 5.2l-5.2 5.2l-5.2 -5.2zM614.8 1118.8l5.2 5.2l-5.2 5.2l-5.2 -5.2zM654.1 1118.8l5.2 5.2l-5.2 5.2l-5.2 -5.2zM670.9 1118.8l5.2 5.2l-5.2 5.2l-5.2 -5.2zM686.2 1118.8l5.2 5.2l-5.2 5.2l-5.2 -5.2zM700.3 1118.8l5.2 5.2l-5.2 5.2l-5.2 -5.2zM713.3 1118.8l5.2 5.2l-5.2 5.2l-5.2 -5.2zM725.5 1118.8l5.2 5.2l-5.2 5.2l-5.2 -5.2zM736.9 1118.8l5.2 5.2l-5.2 5.2l-5.2 -5.2zM747.5 1118.8l5.2 5.2l-5.2 5.2l-5.2 -5.2zM757.6 1118.8l5.2 5.2l-5.2 5.2l-5.2 -5.2zM767.1 1118.8l5.2 5.2l-5.2 5.2l-5.2 -5.2zM776.1 1118.8l5.2 5.2l-5.2 5.2l-5.2 -5.2zM792.9 1118.8l5.2 5.2l-5.2 5.2l-5.2 -5.2zM808.2 1118.8l5.2 5.2l-5.2 5.2l-5.2 -5.2zM815.4 1118.8l5.2 5.2l-5.2 5.2l-5.2 -5.2zM822.3 1118.8l5.2 5.2l-5.2 5.2l-5.2 -5.2zM829.0 1118.8l5.2 5.2l-5.2 5.2l-5.2 -5.2zM841.6 1118.8l5.2 5.2l-5.2 5.2l-5.2 -5.2zM847.5 1118.8l5.2 5.2l-5.2 5.2l-5.2 -5.2zM944.0 1118.8l5.2 5.2l-5.2 5.2l-5.2 -5.2zM974.5 1118.8l5.2 5.2l-5.2 5.2l-5.2 -5.2zM977.5 1118.8l5.2 5.2l-5.2 5.2l-5.2 -5.2zM991.3 1118.8l5.2 5.2l-5.2 5.2l-5.2 -5.2zM1000.0 1118.8l5.2 5.2l-5.2 5.2l-5.2 -5.2zM1026.0 1118.8l5.2 5.2l-5.2 5.2l-5.2 -5.2zM1031.4 1118.8l5.2 5.2l-5.2 5.2l-5.2 -5.2zM1048.8 1118.8l5.2 5.2l-5.2 5.2l-5.2 -5.2zM1056.4 1118.8l5.2 5.2l-5.2 5.2l-5.2 -5.2zM1064.0 1118.8l5.2 5.2l-5.2 5.2l-5.2 -5.2zM1087.8 1118.8l5.2 5.2l-5.2 5.2l-5.2 -5.2zM1097.5 1118.8l5.2 5.2l-5.2 5.2l-5.2 -5.2zM1111.6 1118.8l5.2 5.2l-5.2 5.2l-5.2 -5.2zM863.4 1118.8l5.2 5.2l-5.2 5.2l-5.2 -5.2zM867.0 1118.8l5.2 5.2l-5.2 5.2l-5.2 -5.2zM870.7 1118.8l5.2 5.2l-5.2 5.2l-5.2 -5.2zM874.3 1118.8l5.2 5.2l-5.2 5.2l-5.2 -5.2zM877.9 1118.8l5.2 5.2l-5.2 5.2l-5.2 -5.2zM881.5 1118.8l5.2 5.2l-5.2 5.2l-5.2 -5.2zM885.2 1118.8l5.2 5.2l-5.2 5.2l-5.2 -5.2zM888.8 1118.8l5.2 5.2l-5.2 5.2l-5.2 -5.2zM892.4 1118.8l5.2 5.2l-5.2 5.2l-5.2 -5.2zM896.1 1118.8l5.2 5.2l-5.2 5.2l-5.2 -5.2zM899.7 1118.8l5.2 5.2l-5.2 5.2l-5.2 -5.2zM903.3 1118.8l5.2 5.2l-5.2 5.2l-5.2 -5.2zM907.0 1118.8l5.2 5.2l-5.2 5.2l-5.2 -5.2zM910.6 1118.8l5.2 5.2l-5.2 5.2l-5.2 -5.2zM914.2 1118.8l5.2 5.2l-5.2 5.2l-5.2 -5.2zM917.9 1118.8l5.2 5.2l-5.2 5.2l-5.2 -5.2zM921.5 1118.8l5.2 5.2l-5.2 5.2l-5.2 -5.2zM925.1 1118.8l5.2 5.2l-5.2 5.2l-5.2 -5.2zM928.7 1118.8l5.2 5.2l-5.2 5.2l-5.2 -5.2zM932.4 1118.8l5.2 5.2l-5.2 5.2l-5.2 -5.2zM936.0 1118.8l5.2 5.2l-5.2 5.2l-5.2 -5.2zM954.5 1118.8l5.2 5.2l-5.2 5.2l-5.2 -5.2zM957.8 1118.8l5.2 5.2l-5.2 5.2l-5.2 -5.2zM961.0 1118.8l5.2 5.2l-5.2 5.2l-5.2 -5.2zM1008.7 1118.8l5.2 5.2l-5.2 5.2l-5.2 -5.2zM1012.0 1118.8l5.2 5.2l-5.2 5.2l-5.2 -5.2zM1015.2 1118.8l5.2 5.2l-5.2 5.2l-5.2 -5.2zM1018.5 1118.8l5.2 5.2l-5.2 5.2l-5.2 -5.2zM1021.7 1118.8l5.2 5.2l-5.2 5.2l-5.2 -5.2zM1071.5 1118.8l5.2 5.2l-5.2 5.2l-5.2 -5.2zM1075.8 1118.8l5.2 5.2l-5.2 5.2l-5.2 -5.2zM1080.2 1118.8l5.2 5.2l-5.2 5.2l-5.2 -5.2zM1119.0 1118.8l5.2 5.2l-5.2 5.2l-5.2 -5.2zM1122.4 1118.8l5.2 5.2l-5.2 5.2l-5.2 -5.2zM1125.9 1118.8l5.2 5.2l-5.2 5.2l-5.2 -5.2zM1129.3 1118.8l5.2 5.2l-5.2 5.2l-5.2 -5.2zM1132.8 1118.8l5.2 5.2l-5.2 5.2l-5.2 -5.2zM1136.2 1118.8l5.2 5.2l-5.2 5.2l-5.2 -5.2zM1139.7 1118.8l5.2 5.2l-5.2 5.2l-5.2 -5.2zM1143.1 1118.8l5.2 5.2l-5.2 5.2l-5.2 -5.2zM1146.6 1118.8l5.2 5.2l-5.2 5.2l-5.2 -5.2zM1150.0 1118.8l5.2 5.2l-5.2 5.2l-5.2 -5.2zM1161.7 1118.8l5.2 5.2l-5.2 5.2l-5.2 -5.2zM1174.7 1118.8l5.2 5.2l-5.2 5.2l-5.2 -5.2zM1179.0 1118.8l5.2 5.2l-5.2 5.2l-5.2 -5.2zM1191.0 1118.8l5.2 5.2l-5.2 5.2l-5.2 -5.2zM1195.3 1118.8l5.2 5.2l-5.2 5.2l-5.2 -5.2zM1231.0 1118.8l5.2 5.2l-5.2 5.2l-5.2 -5.2zM1234.3 1118.8l5.2 5.2l-5.2 5.2l-5.2 -5.2zM1247.3 1118.8l5.2 5.2l-5.2 5.2l-5.2 -5.2zM1252.7 1118.8l5.2 5.2l-5.2 5.2l-5.2 -5.2zM1266.8 1118.8l5.2 5.2l-5.2 5.2l-5.2 -5.2zM1277.7 1118.8l5.2 5.2l-5.2 5.2l-5.2 -5.2zM1283.0 1118.8l5.2 5.2l-5.2 5.2l-5.2 -5.2zM1301.5 1118.8l5.2 5.2l-5.2 5.2l-5.2 -5.2zM1318.2 1118.8l5.2 5.2l-5.2 5.2l-5.2 -5.2zM1331.8 1118.8l5.2 5.2l-5.2 5.2l-5.2 -5.2zM1337.3 1118.8l5.2 5.2l-5.2 5.2l-5.2 -5.2zM1390.8 1118.8l5.2 5.2l-5.2 5.2l-5.2 -5.2zM1402.7 1118.8l5.2 5.2l-5.2 5.2l-5.2 -5.2zM1414.9 1118.8l5.2 5.2l-5.2 5.2l-5.2 -5.2zM1425.0 1118.8l5.2 5.2l-5.2 5.2l-5.2 -5.2zM1461.5 1118.8l5.2 5.2l-5.2 5.2l-5.2 -5.2zM1465.2 1118.8l5.2 5.2l-5.2 5.2l-5.2 -5.2zM1537.1 1118.8l5.2 5.2l-5.2 5.2l-5.2 -5.2zM370.7 1028.2l5.2 5.2l-5.2 5.2l-5.2 -5.2zM492.8 1028.2l5.2 5.2l-5.2 5.2l-5.2 -5.2zM532.1 1028.2l5.2 5.2l-5.2 5.2l-5.2 -5.2zM591.3 1028.2l5.2 5.2l-5.2 5.2l-5.2 -5.2zM614.8 1028.2l5.2 5.2l-5.2 5.2l-5.2 -5.2zM654.1 1028.2l5.2 5.2l-5.2 5.2l-5.2 -5.2zM670.9 1028.2l5.2 5.2l-5.2 5.2l-5.2 -5.2zM700.3 1028.2l5.2 5.2l-5.2 5.2l-5.2 -5.2zM713.3 1028.2l5.2 5.2l-5.2 5.2l-5.2 -5.2zM725.5 1028.2l5.2 5.2l-5.2 5.2l-5.2 -5.2zM747.5 1028.2l5.2 5.2l-5.2 5.2l-5.2 -5.2zM757.6 1028.2l5.2 5.2l-5.2 5.2l-5.2 -5.2zM776.1 1028.2l5.2 5.2l-5.2 5.2l-5.2 -5.2zM784.7 1028.2l5.2 5.2l-5.2 5.2l-5.2 -5.2zM792.9 1028.2l5.2 5.2l-5.2 5.2l-5.2 -5.2zM800.7 1028.2l5.2 5.2l-5.2 5.2l-5.2 -5.2zM822.3 1028.2l5.2 5.2l-5.2 5.2l-5.2 -5.2zM847.5 1028.2l5.2 5.2l-5.2 5.2l-5.2 -5.2zM864.3 1028.2l5.2 5.2l-5.2 5.2l-5.2 -5.2zM884.4 1028.2l5.2 5.2l-5.2 5.2l-5.2 -5.2zM937.1 1028.2l5.2 5.2l-5.2 5.2l-5.2 -5.2zM1018.4 1028.2l5.2 5.2l-5.2 5.2l-5.2 -5.2zM1068.3 1028.2l5.2 5.2l-5.2 5.2l-5.2 -5.2zM1133.3 1028.2l5.2 5.2l-5.2 5.2l-5.2 -5.2zM904.6 1028.2l5.2 5.2l-5.2 5.2l-5.2 -5.2zM908.2 1028.2l5.2 5.2l-5.2 5.2l-5.2 -5.2zM911.8 1028.2l5.2 5.2l-5.2 5.2l-5.2 -5.2zM915.4 1028.2l5.2 5.2l-5.2 5.2l-5.2 -5.2zM920.9 1028.2l5.2 5.2l-5.2 5.2l-5.2 -5.2zM924.7 1028.2l5.2 5.2l-5.2 5.2l-5.2 -5.2zM928.5 1028.2l5.2 5.2l-5.2 5.2l-5.2 -5.2zM945.8 1028.2l5.2 5.2l-5.2 5.2l-5.2 -5.2zM949.0 1028.2l5.2 5.2l-5.2 5.2l-5.2 -5.2zM952.3 1028.2l5.2 5.2l-5.2 5.2l-5.2 -5.2zM955.5 1028.2l5.2 5.2l-5.2 5.2l-5.2 -5.2zM958.8 1028.2l5.2 5.2l-5.2 5.2l-5.2 -5.2zM968.6 1028.2l5.2 5.2l-5.2 5.2l-5.2 -5.2zM972.2 1028.2l5.2 5.2l-5.2 5.2l-5.2 -5.2zM975.8 1028.2l5.2 5.2l-5.2 5.2l-5.2 -5.2zM979.4 1028.2l5.2 5.2l-5.2 5.2l-5.2 -5.2zM992.4 1028.2l5.2 5.2l-5.2 5.2l-5.2 -5.2zM996.1 1028.2l5.2 5.2l-5.2 5.2l-5.2 -5.2zM999.8 1028.2l5.2 5.2l-5.2 5.2l-5.2 -5.2zM1003.4 1028.2l5.2 5.2l-5.2 5.2l-5.2 -5.2zM1007.1 1028.2l5.2 5.2l-5.2 5.2l-5.2 -5.2zM1010.8 1028.2l5.2 5.2l-5.2 5.2l-5.2 -5.2zM1029.3 1028.2l5.2 5.2l-5.2 5.2l-5.2 -5.2zM1033.1 1028.2l5.2 5.2l-5.2 5.2l-5.2 -5.2zM1036.8 1028.2l5.2 5.2l-5.2 5.2l-5.2 -5.2zM1040.6 1028.2l5.2 5.2l-5.2 5.2l-5.2 -5.2zM1044.4 1028.2l5.2 5.2l-5.2 5.2l-5.2 -5.2zM1052.0 1028.2l5.2 5.2l-5.2 5.2l-5.2 -5.2zM1054.7 1028.2l5.2 5.2l-5.2 5.2l-5.2 -5.2zM1057.4 1028.2l5.2 5.2l-5.2 5.2l-5.2 -5.2zM1081.3 1028.2l5.2 5.2l-5.2 5.2l-5.2 -5.2zM1085.3 1028.2l5.2 5.2l-5.2 5.2l-5.2 -5.2zM1089.2 1028.2l5.2 5.2l-5.2 5.2l-5.2 -5.2zM1093.2 1028.2l5.2 5.2l-5.2 5.2l-5.2 -5.2zM1158.4 1028.2l5.2 5.2l-5.2 5.2l-5.2 -5.2zM1163.8 1028.2l5.2 5.2l-5.2 5.2l-5.2 -5.2zM1167.0 1028.2l5.2 5.2l-5.2 5.2l-5.2 -5.2zM1181.2 1028.2l5.2 5.2l-5.2 5.2l-5.2 -5.2zM1214.8 1028.2l5.2 5.2l-5.2 5.2l-5.2 -5.2zM1235.0 1028.2l5.2 5.2l-5.2 5.2l-5.2 -5.2zM1256.0 1028.2l5.2 5.2l-5.2 5.2l-5.2 -5.2zM1263.1 1028.2l5.2 5.2l-5.2 5.2l-5.2 -5.2zM1270.7 1028.2l5.2 5.2l-5.2 5.2l-5.2 -5.2zM1355.3 1028.2l5.2 5.2l-5.2 5.2l-5.2 -5.2zM1367.0 1028.2l5.2 5.2l-5.2 5.2l-5.2 -5.2zM1381.7 1028.2l5.2 5.2l-5.2 5.2l-5.2 -5.2zM1408.8 1028.2l5.2 5.2l-5.2 5.2l-5.2 -5.2zM1443.0 1028.2l5.2 5.2l-5.2 5.2l-5.2 -5.2zM1509.2 1028.2l5.2 5.2l-5.2 5.2l-5.2 -5.2zM1580.5 1028.2l5.2 5.2l-5.2 5.2l-5.2 -5.2zM1615.4 1028.2l5.2 5.2l-5.2 5.2l-5.2 -5.2zM442.1 975.2l5.2 5.2l-5.2 5.2l-5.2 -5.2zM492.8 975.2l5.2 5.2l-5.2 5.2l-5.2 -5.2zM564.2 975.2l5.2 5.2l-5.2 5.2l-5.2 -5.2zM635.5 975.2l5.2 5.2l-5.2 5.2l-5.2 -5.2zM654.1 975.2l5.2 5.2l-5.2 5.2l-5.2 -5.2zM670.9 975.2l5.2 5.2l-5.2 5.2l-5.2 -5.2zM686.2 975.2l5.2 5.2l-5.2 5.2l-5.2 -5.2zM725.5 975.2l5.2 5.2l-5.2 5.2l-5.2 -5.2zM736.9 975.2l5.2 5.2l-5.2 5.2l-5.2 -5.2zM747.5 975.2l5.2 5.2l-5.2 5.2l-5.2 -5.2zM776.1 975.2l5.2 5.2l-5.2 5.2l-5.2 -5.2zM808.2 975.2l5.2 5.2l-5.2 5.2l-5.2 -5.2zM815.4 975.2l5.2 5.2l-5.2 5.2l-5.2 -5.2zM841.6 975.2l5.2 5.2l-5.2 5.2l-5.2 -5.2zM858.9 975.2l5.2 5.2l-5.2 5.2l-5.2 -5.2zM864.3 975.2l5.2 5.2l-5.2 5.2l-5.2 -5.2zM869.6 975.2l5.2 5.2l-5.2 5.2l-5.2 -5.2zM898.1 975.2l5.2 5.2l-5.2 5.2l-5.2 -5.2zM910.7 975.2l5.2 5.2l-5.2 5.2l-5.2 -5.2zM922.0 975.2l5.2 5.2l-5.2 5.2l-5.2 -5.2zM929.5 975.2l5.2 5.2l-5.2 5.2l-5.2 -5.2zM944.0 975.2l5.2 5.2l-5.2 5.2l-5.2 -5.2zM955.5 975.2l5.2 5.2l-5.2 5.2l-5.2 -5.2zM960.0 975.2l5.2 5.2l-5.2 5.2l-5.2 -5.2zM993.5 975.2l5.2 5.2l-5.2 5.2l-5.2 -5.2zM997.8 975.2l5.2 5.2l-5.2 5.2l-5.2 -5.2zM1004.3 975.2l5.2 5.2l-5.2 5.2l-5.2 -5.2zM1017.3 975.2l5.2 5.2l-5.2 5.2l-5.2 -5.2zM1022.8 975.2l5.2 5.2l-5.2 5.2l-5.2 -5.2zM1034.7 975.2l5.2 5.2l-5.2 5.2l-5.2 -5.2zM1080.9 975.2l5.2 5.2l-5.2 5.2l-5.2 -5.2zM1111.0 975.2l5.2 5.2l-5.2 5.2l-5.2 -5.2zM970.7 975.2l5.2 5.2l-5.2 5.2l-5.2 -5.2zM974.2 975.2l5.2 5.2l-5.2 5.2l-5.2 -5.2zM977.8 975.2l5.2 5.2l-5.2 5.2l-5.2 -5.2zM981.3 975.2l5.2 5.2l-5.2 5.2l-5.2 -5.2zM984.8 975.2l5.2 5.2l-5.2 5.2l-5.2 -5.2zM1047.7 975.2l5.2 5.2l-5.2 5.2l-5.2 -5.2zM1051.5 975.2l5.2 5.2l-5.2 5.2l-5.2 -5.2zM1055.3 975.2l5.2 5.2l-5.2 5.2l-5.2 -5.2zM1059.1 975.2l5.2 5.2l-5.2 5.2l-5.2 -5.2zM1062.9 975.2l5.2 5.2l-5.2 5.2l-5.2 -5.2zM1146.5 975.2l5.2 5.2l-5.2 5.2l-5.2 -5.2zM1150.8 975.2l5.2 5.2l-5.2 5.2l-5.2 -5.2zM1161.7 975.2l5.2 5.2l-5.2 5.2l-5.2 -5.2zM1173.2 975.2l5.2 5.2l-5.2 5.2l-5.2 -5.2zM1182.3 975.2l5.2 5.2l-5.2 5.2l-5.2 -5.2zM1188.8 975.2l5.2 5.2l-5.2 5.2l-5.2 -5.2zM1194.2 975.2l5.2 5.2l-5.2 5.2l-5.2 -5.2zM1208.9 975.2l5.2 5.2l-5.2 5.2l-5.2 -5.2zM1224.1 975.2l5.2 5.2l-5.2 5.2l-5.2 -5.2zM1293.5 975.2l5.2 5.2l-5.2 5.2l-5.2 -5.2zM1337.7 975.2l5.2 5.2l-5.2 5.2l-5.2 -5.2zM1347.7 975.2l5.2 5.2l-5.2 5.2l-5.2 -5.2zM1488.6 975.2l5.2 5.2l-5.2 5.2l-5.2 -5.2zM492.8 937.6l5.2 5.2l-5.2 5.2l-5.2 -5.2zM564.2 937.6l5.2 5.2l-5.2 5.2l-5.2 -5.2zM591.3 937.6l5.2 5.2l-5.2 5.2l-5.2 -5.2zM776.1 937.6l5.2 5.2l-5.2 5.2l-5.2 -5.2zM784.7 937.6l5.2 5.2l-5.2 5.2l-5.2 -5.2zM792.9 937.6l5.2 5.2l-5.2 5.2l-5.2 -5.2zM800.7 937.6l5.2 5.2l-5.2 5.2l-5.2 -5.2zM815.4 937.6l5.2 5.2l-5.2 5.2l-5.2 -5.2zM822.3 937.6l5.2 5.2l-5.2 5.2l-5.2 -5.2zM829.0 937.6l5.2 5.2l-5.2 5.2l-5.2 -5.2zM835.4 937.6l5.2 5.2l-5.2 5.2l-5.2 -5.2zM847.5 937.6l5.2 5.2l-5.2 5.2l-5.2 -5.2zM879.6 937.6l5.2 5.2l-5.2 5.2l-5.2 -5.2zM884.4 937.6l5.2 5.2l-5.2 5.2l-5.2 -5.2zM906.8 937.6l5.2 5.2l-5.2 5.2l-5.2 -5.2zM911.1 937.6l5.2 5.2l-5.2 5.2l-5.2 -5.2zM933.9 937.6l5.2 5.2l-5.2 5.2l-5.2 -5.2zM944.0 937.6l5.2 5.2l-5.2 5.2l-5.2 -5.2zM963.6 937.6l5.2 5.2l-5.2 5.2l-5.2 -5.2zM977.9 937.6l5.2 5.2l-5.2 5.2l-5.2 -5.2zM993.5 937.6l5.2 5.2l-5.2 5.2l-5.2 -5.2zM998.9 937.6l5.2 5.2l-5.2 5.2l-5.2 -5.2zM1002.2 937.6l5.2 5.2l-5.2 5.2l-5.2 -5.2zM1022.3 937.6l5.2 5.2l-5.2 5.2l-5.2 -5.2zM1034.7 937.6l5.2 5.2l-5.2 5.2l-5.2 -5.2zM1061.1 937.6l5.2 5.2l-5.2 5.2l-5.2 -5.2zM1080.9 937.6l5.2 5.2l-5.2 5.2l-5.2 -5.2zM1099.7 937.6l5.2 5.2l-5.2 5.2l-5.2 -5.2zM1103.0 937.6l5.2 5.2l-5.2 5.2l-5.2 -5.2zM1124.0 937.6l5.2 5.2l-5.2 5.2l-5.2 -5.2zM1157.3 937.6l5.2 5.2l-5.2 5.2l-5.2 -5.2zM1166.7 937.6l5.2 5.2l-5.2 5.2l-5.2 -5.2zM1184.0 937.6l5.2 5.2l-5.2 5.2l-5.2 -5.2zM1208.3 937.6l5.2 5.2l-5.2 5.2l-5.2 -5.2zM1261.4 937.6l5.2 5.2l-5.2 5.2l-5.2 -5.2zM1265.1 937.6l5.2 5.2l-5.2 5.2l-5.2 -5.2zM1370.2 937.6l5.2 5.2l-5.2 5.2l-5.2 -5.2zM1554.0 937.6l5.2 5.2l-5.2 5.2l-5.2 -5.2zM1566.6 937.6l5.2 5.2l-5.2 5.2l-5.2 -5.2zM492.8 908.4l5.2 5.2l-5.2 5.2l-5.2 -5.2zM564.2 908.4l5.2 5.2l-5.2 5.2l-5.2 -5.2zM591.3 908.4l5.2 5.2l-5.2 5.2l-5.2 -5.2zM670.9 908.4l5.2 5.2l-5.2 5.2l-5.2 -5.2zM713.3 908.4l5.2 5.2l-5.2 5.2l-5.2 -5.2zM725.5 908.4l5.2 5.2l-5.2 5.2l-5.2 -5.2zM736.9 908.4l5.2 5.2l-5.2 5.2l-5.2 -5.2zM767.1 908.4l5.2 5.2l-5.2 5.2l-5.2 -5.2zM776.1 908.4l5.2 5.2l-5.2 5.2l-5.2 -5.2zM822.3 908.4l5.2 5.2l-5.2 5.2l-5.2 -5.2zM869.6 908.4l5.2 5.2l-5.2 5.2l-5.2 -5.2zM874.7 908.4l5.2 5.2l-5.2 5.2l-5.2 -5.2zM897.0 908.4l5.2 5.2l-5.2 5.2l-5.2 -5.2zM902.4 908.4l5.2 5.2l-5.2 5.2l-5.2 -5.2zM930.0 908.4l5.2 5.2l-5.2 5.2l-5.2 -5.2zM942.5 908.4l5.2 5.2l-5.2 5.2l-5.2 -5.2zM948.0 908.4l5.2 5.2l-5.2 5.2l-5.2 -5.2zM957.0 908.4l5.2 5.2l-5.2 5.2l-5.2 -5.2zM971.8 908.4l5.2 5.2l-5.2 5.2l-5.2 -5.2zM980.5 908.4l5.2 5.2l-5.2 5.2l-5.2 -5.2zM993.5 908.4l5.2 5.2l-5.2 5.2l-5.2 -5.2zM1006.5 908.4l5.2 5.2l-5.2 5.2l-5.2 -5.2zM1075.9 908.4l5.2 5.2l-5.2 5.2l-5.2 -5.2zM1086.7 908.4l5.2 5.2l-5.2 5.2l-5.2 -5.2zM1109.5 908.4l5.2 5.2l-5.2 5.2l-5.2 -5.2zM1117.0 908.4l5.2 5.2l-5.2 5.2l-5.2 -5.2zM1131.0 908.4l5.2 5.2l-5.2 5.2l-5.2 -5.2zM1138.7 908.4l5.2 5.2l-5.2 5.2l-5.2 -5.2zM1152.0 908.4l5.2 5.2l-5.2 5.2l-5.2 -5.2zM1161.7 908.4l5.2 5.2l-5.2 5.2l-5.2 -5.2zM1201.8 908.4l5.2 5.2l-5.2 5.2l-5.2 -5.2zM1205.0 908.4l5.2 5.2l-5.2 5.2l-5.2 -5.2zM1212.2 908.4l5.2 5.2l-5.2 5.2l-5.2 -5.2zM1280.9 908.4l5.2 5.2l-5.2 5.2l-5.2 -5.2zM1290.7 908.4l5.2 5.2l-5.2 5.2l-5.2 -5.2zM1354.2 908.4l5.2 5.2l-5.2 5.2l-5.2 -5.2zM1434.8 908.4l5.2 5.2l-5.2 5.2l-5.2 -5.2zM1492.3 908.4l5.2 5.2l-5.2 5.2l-5.2 -5.2zM1503.8 908.4l5.2 5.2l-5.2 5.2l-5.2 -5.2zM635.5 884.6l5.2 5.2l-5.2 5.2l-5.2 -5.2zM713.3 884.6l5.2 5.2l-5.2 5.2l-5.2 -5.2zM757.6 884.6l5.2 5.2l-5.2 5.2l-5.2 -5.2zM800.7 884.6l5.2 5.2l-5.2 5.2l-5.2 -5.2zM841.6 884.6l5.2 5.2l-5.2 5.2l-5.2 -5.2zM947.3 884.6l5.2 5.2l-5.2 5.2l-5.2 -5.2zM969.6 884.6l5.2 5.2l-5.2 5.2l-5.2 -5.2zM995.7 884.6l5.2 5.2l-5.2 5.2l-5.2 -5.2zM1001.0 884.6l5.2 5.2l-5.2 5.2l-5.2 -5.2zM1010.8 884.6l5.2 5.2l-5.2 5.2l-5.2 -5.2zM1017.3 884.6l5.2 5.2l-5.2 5.2l-5.2 -5.2zM1026.7 884.6l5.2 5.2l-5.2 5.2l-5.2 -5.2zM1075.9 884.6l5.2 5.2l-5.2 5.2l-5.2 -5.2zM1083.5 884.6l5.2 5.2l-5.2 5.2l-5.2 -5.2zM1096.5 884.6l5.2 5.2l-5.2 5.2l-5.2 -5.2zM1103.0 884.6l5.2 5.2l-5.2 5.2l-5.2 -5.2zM1116.0 884.6l5.2 5.2l-5.2 5.2l-5.2 -5.2zM1120.3 884.6l5.2 5.2l-5.2 5.2l-5.2 -5.2zM1188.1 884.6l5.2 5.2l-5.2 5.2l-5.2 -5.2zM1248.0 884.6l5.2 5.2l-5.2 5.2l-5.2 -5.2zM1361.1 884.6l5.2 5.2l-5.2 5.2l-5.2 -5.2zM1405.6 884.6l5.2 5.2l-5.2 5.2l-5.2 -5.2zM1407.7 884.6l5.2 5.2l-5.2 5.2l-5.2 -5.2zM1487.5 884.6l5.2 5.2l-5.2 5.2l-5.2 -5.2zM614.8 864.4l5.2 5.2l-5.2 5.2l-5.2 -5.2zM635.5 864.4l5.2 5.2l-5.2 5.2l-5.2 -5.2zM670.9 864.4l5.2 5.2l-5.2 5.2l-5.2 -5.2zM686.2 864.4l5.2 5.2l-5.2 5.2l-5.2 -5.2zM700.3 864.4l5.2 5.2l-5.2 5.2l-5.2 -5.2zM815.4 864.4l5.2 5.2l-5.2 5.2l-5.2 -5.2zM822.3 864.4l5.2 5.2l-5.2 5.2l-5.2 -5.2zM835.4 864.4l5.2 5.2l-5.2 5.2l-5.2 -5.2zM893.7 864.4l5.2 5.2l-5.2 5.2l-5.2 -5.2zM898.2 864.4l5.2 5.2l-5.2 5.2l-5.2 -5.2zM915.0 864.4l5.2 5.2l-5.2 5.2l-5.2 -5.2zM922.8 864.4l5.2 5.2l-5.2 5.2l-5.2 -5.2zM933.9 864.4l5.2 5.2l-5.2 5.2l-5.2 -5.2zM966.6 864.4l5.2 5.2l-5.2 5.2l-5.2 -5.2zM980.9 864.4l5.2 5.2l-5.2 5.2l-5.2 -5.2zM991.6 864.4l5.2 5.2l-5.2 5.2l-5.2 -5.2zM996.7 864.4l5.2 5.2l-5.2 5.2l-5.2 -5.2zM1011.2 864.4l5.2 5.2l-5.2 5.2l-5.2 -5.2zM1015.8 864.4l5.2 5.2l-5.2 5.2l-5.2 -5.2zM1030.9 864.4l5.2 5.2l-5.2 5.2l-5.2 -5.2zM1040.9 864.4l5.2 5.2l-5.2 5.2l-5.2 -5.2zM1054.1 864.4l5.2 5.2l-5.2 5.2l-5.2 -5.2zM1076.4 864.4l5.2 5.2l-5.2 5.2l-5.2 -5.2zM1125.9 864.4l5.2 5.2l-5.2 5.2l-5.2 -5.2zM1163.8 864.4l5.2 5.2l-5.2 5.2l-5.2 -5.2zM1207.8 864.4l5.2 5.2l-5.2 5.2l-5.2 -5.2zM1216.9 864.4l5.2 5.2l-5.2 5.2l-5.2 -5.2zM1259.2 864.4l5.2 5.2l-5.2 5.2l-5.2 -5.2zM1345.9 864.4l5.2 5.2l-5.2 5.2l-5.2 -5.2zM1439.1 864.4l5.2 5.2l-5.2 5.2l-5.2 -5.2zM1510.7 864.4l5.2 5.2l-5.2 5.2l-5.2 -5.2zM670.9 847.0l5.2 5.2l-5.2 5.2l-5.2 -5.2zM686.2 847.0l5.2 5.2l-5.2 5.2l-5.2 -5.2zM713.3 847.0l5.2 5.2l-5.2 5.2l-5.2 -5.2zM815.4 847.0l5.2 5.2l-5.2 5.2l-5.2 -5.2zM847.5 847.0l5.2 5.2l-5.2 5.2l-5.2 -5.2zM889.1 847.0l5.2 5.2l-5.2 5.2l-5.2 -5.2zM898.2 847.0l5.2 5.2l-5.2 5.2l-5.2 -5.2zM902.5 847.0l5.2 5.2l-5.2 5.2l-5.2 -5.2zM989.0 847.0l5.2 5.2l-5.2 5.2l-5.2 -5.2zM1028.8 847.0l5.2 5.2l-5.2 5.2l-5.2 -5.2zM1085.8 847.0l5.2 5.2l-5.2 5.2l-5.2 -5.2zM1094.4 847.0l5.2 5.2l-5.2 5.2l-5.2 -5.2zM1116.1 847.0l5.2 5.2l-5.2 5.2l-5.2 -5.2zM1207.2 847.0l5.2 5.2l-5.2 5.2l-5.2 -5.2zM1211.5 847.0l5.2 5.2l-5.2 5.2l-5.2 -5.2zM1258.1 847.0l5.2 5.2l-5.2 5.2l-5.2 -5.2zM1399.0 847.0l5.2 5.2l-5.2 5.2l-5.2 -5.2zM1415.9 847.0l5.2 5.2l-5.2 5.2l-5.2 -5.2zM713.3 831.6l5.2 5.2l-5.2 5.2l-5.2 -5.2zM725.5 831.6l5.2 5.2l-5.2 5.2l-5.2 -5.2zM736.9 831.6l5.2 5.2l-5.2 5.2l-5.2 -5.2zM822.3 831.6l5.2 5.2l-5.2 5.2l-5.2 -5.2zM906.8 831.6l5.2 5.2l-5.2 5.2l-5.2 -5.2zM1004.1 831.6l5.2 5.2l-5.2 5.2l-5.2 -5.2zM1040.9 831.6l5.2 5.2l-5.2 5.2l-5.2 -5.2zM1055.9 831.6l5.2 5.2l-5.2 5.2l-5.2 -5.2zM1077.1 831.6l5.2 5.2l-5.2 5.2l-5.2 -5.2zM1080.3 831.6l5.2 5.2l-5.2 5.2l-5.2 -5.2zM1106.8 831.6l5.2 5.2l-5.2 5.2l-5.2 -5.2zM1121.1 831.6l5.2 5.2l-5.2 5.2l-5.2 -5.2zM1136.7 831.6l5.2 5.2l-5.2 5.2l-5.2 -5.2zM1184.4 831.6l5.2 5.2l-5.2 5.2l-5.2 -5.2zM1192.0 831.6l5.2 5.2l-5.2 5.2l-5.2 -5.2zM1218.7 831.6l5.2 5.2l-5.2 5.2l-5.2 -5.2zM1259.6 831.6l5.2 5.2l-5.2 5.2l-5.2 -5.2zM1280.9 831.6l5.2 5.2l-5.2 5.2l-5.2 -5.2zM1362.2 831.6l5.2 5.2l-5.2 5.2l-5.2 -5.2zM1368.7 831.6l5.2 5.2l-5.2 5.2l-5.2 -5.2zM1409.9 831.6l5.2 5.2l-5.2 5.2l-5.2 -5.2zM1446.3 831.6l5.2 5.2l-5.2 5.2l-5.2 -5.2zM1493.3 831.6l5.2 5.2l-5.2 5.2l-5.2 -5.2zM670.9 817.8l5.2 5.2l-5.2 5.2l-5.2 -5.2zM700.3 817.8l5.2 5.2l-5.2 5.2l-5.2 -5.2zM792.9 817.8l5.2 5.2l-5.2 5.2l-5.2 -5.2zM841.6 817.8l5.2 5.2l-5.2 5.2l-5.2 -5.2zM889.1 817.8l5.2 5.2l-5.2 5.2l-5.2 -5.2zM922.8 817.8l5.2 5.2l-5.2 5.2l-5.2 -5.2zM947.7 817.8l5.2 5.2l-5.2 5.2l-5.2 -5.2zM960.5 817.8l5.2 5.2l-5.2 5.2l-5.2 -5.2zM966.6 817.8l5.2 5.2l-5.2 5.2l-5.2 -5.2zM972.5 817.8l5.2 5.2l-5.2 5.2l-5.2 -5.2zM1004.1 817.8l5.2 5.2l-5.2 5.2l-5.2 -5.2zM1044.8 817.8l5.2 5.2l-5.2 5.2l-5.2 -5.2zM1100.9 817.8l5.2 5.2l-5.2 5.2l-5.2 -5.2zM1104.2 817.8l5.2 5.2l-5.2 5.2l-5.2 -5.2zM1117.2 817.8l5.2 5.2l-5.2 5.2l-5.2 -5.2zM1151.9 817.8l5.2 5.2l-5.2 5.2l-5.2 -5.2zM1170.7 817.8l5.2 5.2l-5.2 5.2l-5.2 -5.2zM1189.8 817.8l5.2 5.2l-5.2 5.2l-5.2 -5.2zM1214.3 817.8l5.2 5.2l-5.2 5.2l-5.2 -5.2zM1226.2 817.8l5.2 5.2l-5.2 5.2l-5.2 -5.2zM1323.8 817.8l5.2 5.2l-5.2 5.2l-5.2 -5.2zM1368.7 817.8l5.2 5.2l-5.2 5.2l-5.2 -5.2zM1379.1 817.8l5.2 5.2l-5.2 5.2l-5.2 -5.2zM1437.4 817.8l5.2 5.2l-5.2 5.2l-5.2 -5.2zM736.9 805.3l5.2 5.2l-5.2 5.2l-5.2 -5.2zM757.6 805.3l5.2 5.2l-5.2 5.2l-5.2 -5.2zM800.7 805.3l5.2 5.2l-5.2 5.2l-5.2 -5.2zM853.3 805.3l5.2 5.2l-5.2 5.2l-5.2 -5.2zM879.6 805.3l5.2 5.2l-5.2 5.2l-5.2 -5.2zM910.9 805.3l5.2 5.2l-5.2 5.2l-5.2 -5.2zM915.0 805.3l5.2 5.2l-5.2 5.2l-5.2 -5.2zM957.4 805.3l5.2 5.2l-5.2 5.2l-5.2 -5.2zM972.5 805.3l5.2 5.2l-5.2 5.2l-5.2 -5.2zM989.0 805.3l5.2 5.2l-5.2 5.2l-5.2 -5.2zM1048.6 805.3l5.2 5.2l-5.2 5.2l-5.2 -5.2zM1057.7 805.3l5.2 5.2l-5.2 5.2l-5.2 -5.2zM1068.4 805.3l5.2 5.2l-5.2 5.2l-5.2 -5.2zM1092.9 805.3l5.2 5.2l-5.2 5.2l-5.2 -5.2zM1136.7 805.3l5.2 5.2l-5.2 5.2l-5.2 -5.2zM1157.7 805.3l5.2 5.2l-5.2 5.2l-5.2 -5.2zM1179.6 805.3l5.2 5.2l-5.2 5.2l-5.2 -5.2zM1210.4 805.3l5.2 5.2l-5.2 5.2l-5.2 -5.2zM1383.8 805.3l5.2 5.2l-5.2 5.2l-5.2 -5.2zM713.3 794.0l5.2 5.2l-5.2 5.2l-5.2 -5.2zM800.7 794.0l5.2 5.2l-5.2 5.2l-5.2 -5.2zM835.4 794.0l5.2 5.2l-5.2 5.2l-5.2 -5.2zM847.5 794.0l5.2 5.2l-5.2 5.2l-5.2 -5.2zM902.5 794.0l5.2 5.2l-5.2 5.2l-5.2 -5.2zM910.9 794.0l5.2 5.2l-5.2 5.2l-5.2 -5.2zM951.0 794.0l5.2 5.2l-5.2 5.2l-5.2 -5.2zM983.7 794.0l5.2 5.2l-5.2 5.2l-5.2 -5.2zM986.3 794.0l5.2 5.2l-5.2 5.2l-5.2 -5.2zM1013.5 794.0l5.2 5.2l-5.2 5.2l-5.2 -5.2zM1076.4 794.0l5.2 5.2l-5.2 5.2l-5.2 -5.2zM1091.2 794.0l5.2 5.2l-5.2 5.2l-5.2 -5.2zM1107.4 794.0l5.2 5.2l-5.2 5.2l-5.2 -5.2zM1114.6 794.0l5.2 5.2l-5.2 5.2l-5.2 -5.2zM1121.5 794.0l5.2 5.2l-5.2 5.2l-5.2 -5.2zM1249.9 794.0l5.2 5.2l-5.2 5.2l-5.2 -5.2zM1289.5 794.0l5.2 5.2l-5.2 5.2l-5.2 -5.2zM1340.0 794.0l5.2 5.2l-5.2 5.2l-5.2 -5.2zM1487.9 794.0l5.2 5.2l-5.2 5.2l-5.2 -5.2zM1498.3 794.0l5.2 5.2l-5.2 5.2l-5.2 -5.2zM1507.4 794.0l5.2 5.2l-5.2 5.2l-5.2 -5.2zM713.3 783.5l5.2 5.2l-5.2 5.2l-5.2 -5.2zM829.0 783.5l5.2 5.2l-5.2 5.2l-5.2 -5.2zM902.5 783.5l5.2 5.2l-5.2 5.2l-5.2 -5.2zM915.0 783.5l5.2 5.2l-5.2 5.2l-5.2 -5.2zM954.2 783.5l5.2 5.2l-5.2 5.2l-5.2 -5.2zM969.6 783.5l5.2 5.2l-5.2 5.2l-5.2 -5.2zM996.7 783.5l5.2 5.2l-5.2 5.2l-5.2 -5.2zM1050.5 783.5l5.2 5.2l-5.2 5.2l-5.2 -5.2zM1141.0 783.5l5.2 5.2l-5.2 5.2l-5.2 -5.2zM1161.6 783.5l5.2 5.2l-5.2 5.2l-5.2 -5.2zM1179.0 783.5l5.2 5.2l-5.2 5.2l-5.2 -5.2zM1182.7 783.5l5.2 5.2l-5.2 5.2l-5.2 -5.2zM1233.8 783.5l5.2 5.2l-5.2 5.2l-5.2 -5.2zM1273.9 783.5l5.2 5.2l-5.2 5.2l-5.2 -5.2zM1375.2 783.5l5.2 5.2l-5.2 5.2l-5.2 -5.2zM1477.1 783.5l5.2 5.2l-5.2 5.2l-5.2 -5.2zM808.2 773.8l5.2 5.2l-5.2 5.2l-5.2 -5.2zM829.0 773.8l5.2 5.2l-5.2 5.2l-5.2 -5.2zM835.4 773.8l5.2 5.2l-5.2 5.2l-5.2 -5.2zM879.6 773.8l5.2 5.2l-5.2 5.2l-5.2 -5.2zM951.0 773.8l5.2 5.2l-5.2 5.2l-5.2 -5.2zM1037.0 773.8l5.2 5.2l-5.2 5.2l-5.2 -5.2zM1066.3 773.8l5.2 5.2l-5.2 5.2l-5.2 -5.2zM1145.4 773.8l5.2 5.2l-5.2 5.2l-5.2 -5.2zM1157.7 773.8l5.2 5.2l-5.2 5.2l-5.2 -5.2zM1363.7 773.8l5.2 5.2l-5.2 5.2l-5.2 -5.2zM776.1 764.8l5.2 5.2l-5.2 5.2l-5.2 -5.2zM869.6 764.8l5.2 5.2l-5.2 5.2l-5.2 -5.2zM1015.8 764.8l5.2 5.2l-5.2 5.2l-5.2 -5.2zM1035.0 764.8l5.2 5.2l-5.2 5.2l-5.2 -5.2zM1102.0 764.8l5.2 5.2l-5.2 5.2l-5.2 -5.2zM1122.6 764.8l5.2 5.2l-5.2 5.2l-5.2 -5.2zM1175.7 764.8l5.2 5.2l-5.2 5.2l-5.2 -5.2zM1212.2 764.8l5.2 5.2l-5.2 5.2l-5.2 -5.2zM1277.0 764.8l5.2 5.2l-5.2 5.2l-5.2 -5.2zM1331.8 764.8l5.2 5.2l-5.2 5.2l-5.2 -5.2zM1472.3 764.8l5.2 5.2l-5.2 5.2l-5.2 -5.2zM815.4 756.4l5.2 5.2l-5.2 5.2l-5.2 -5.2zM822.3 756.4l5.2 5.2l-5.2 5.2l-5.2 -5.2zM884.4 756.4l5.2 5.2l-5.2 5.2l-5.2 -5.2zM889.1 756.4l5.2 5.2l-5.2 5.2l-5.2 -5.2zM915.0 756.4l5.2 5.2l-5.2 5.2l-5.2 -5.2zM994.2 756.4l5.2 5.2l-5.2 5.2l-5.2 -5.2zM1015.8 756.4l5.2 5.2l-5.2 5.2l-5.2 -5.2zM1040.9 756.4l5.2 5.2l-5.2 5.2l-5.2 -5.2zM1069.5 756.4l5.2 5.2l-5.2 5.2l-5.2 -5.2zM1117.2 756.4l5.2 5.2l-5.2 5.2l-5.2 -5.2zM1127.0 756.4l5.2 5.2l-5.2 5.2l-5.2 -5.2zM1135.6 756.4l5.2 5.2l-5.2 5.2l-5.2 -5.2zM1167.1 756.4l5.2 5.2l-5.2 5.2l-5.2 -5.2zM1188.7 756.4l5.2 5.2l-5.2 5.2l-5.2 -5.2zM1195.7 756.4l5.2 5.2l-5.2 5.2l-5.2 -5.2zM1207.2 756.4l5.2 5.2l-5.2 5.2l-5.2 -5.2zM1270.0 756.4l5.2 5.2l-5.2 5.2l-5.2 -5.2zM784.7 748.4l5.2 5.2l-5.2 5.2l-5.2 -5.2zM808.2 748.4l5.2 5.2l-5.2 5.2l-5.2 -5.2zM815.4 748.4l5.2 5.2l-5.2 5.2l-5.2 -5.2zM922.8 748.4l5.2 5.2l-5.2 5.2l-5.2 -5.2zM1015.8 748.4l5.2 5.2l-5.2 5.2l-5.2 -5.2zM1134.1 748.4l5.2 5.2l-5.2 5.2l-5.2 -5.2zM1175.1 748.4l5.2 5.2l-5.2 5.2l-5.2 -5.2zM1204.3 748.4l5.2 5.2l-5.2 5.2l-5.2 -5.2zM1325.3 748.4l5.2 5.2l-5.2 5.2l-5.2 -5.2zM841.6 741.0l5.2 5.2l-5.2 5.2l-5.2 -5.2zM864.3 741.0l5.2 5.2l-5.2 5.2l-5.2 -5.2zM884.4 741.0l5.2 5.2l-5.2 5.2l-5.2 -5.2zM975.3 741.0l5.2 5.2l-5.2 5.2l-5.2 -5.2zM983.7 741.0l5.2 5.2l-5.2 5.2l-5.2 -5.2zM1040.9 741.0l5.2 5.2l-5.2 5.2l-5.2 -5.2zM1355.7 741.0l5.2 5.2l-5.2 5.2l-5.2 -5.2zM1452.6 741.0l5.2 5.2l-5.2 5.2l-5.2 -5.2zM784.7 733.9l5.2 5.2l-5.2 5.2l-5.2 -5.2zM853.3 733.9l5.2 5.2l-5.2 5.2l-5.2 -5.2zM1022.4 733.9l5.2 5.2l-5.2 5.2l-5.2 -5.2zM1060.8 733.9l5.2 5.2l-5.2 5.2l-5.2 -5.2zM926.6 727.2l5.2 5.2l-5.2 5.2l-5.2 -5.2zM972.5 727.2l5.2 5.2l-5.2 5.2l-5.2 -5.2zM983.7 727.2l5.2 5.2l-5.2 5.2l-5.2 -5.2zM989.0 727.2l5.2 5.2l-5.2 5.2l-5.2 -5.2zM1068.0 727.2l5.2 5.2l-5.2 5.2l-5.2 -5.2zM1251.0 727.2l5.2 5.2l-5.2 5.2l-5.2 -5.2zM1277.0 727.2l5.2 5.2l-5.2 5.2l-5.2 -5.2zM815.4 720.8l5.2 5.2l-5.2 5.2l-5.2 -5.2zM869.6 720.8l5.2 5.2l-5.2 5.2l-5.2 -5.2zM918.9 720.8l5.2 5.2l-5.2 5.2l-5.2 -5.2zM991.6 720.8l5.2 5.2l-5.2 5.2l-5.2 -5.2zM996.7 720.8l5.2 5.2l-5.2 5.2l-5.2 -5.2zM1032.9 720.8l5.2 5.2l-5.2 5.2l-5.2 -5.2zM1111.1 720.8l5.2 5.2l-5.2 5.2l-5.2 -5.2zM1127.4 720.8l5.2 5.2l-5.2 5.2l-5.2 -5.2zM1140.0 720.8l5.2 5.2l-5.2 5.2l-5.2 -5.2zM1249.0 720.8l5.2 5.2l-5.2 5.2l-5.2 -5.2zM829.0 714.7l5.2 5.2l-5.2 5.2l-5.2 -5.2zM869.6 714.7l5.2 5.2l-5.2 5.2l-5.2 -5.2zM902.5 714.7l5.2 5.2l-5.2 5.2l-5.2 -5.2zM966.6 714.7l5.2 5.2l-5.2 5.2l-5.2 -5.2zM978.2 714.7l5.2 5.2l-5.2 5.2l-5.2 -5.2zM1077.7 714.7l5.2 5.2l-5.2 5.2l-5.2 -5.2zM1097.7 714.7l5.2 5.2l-5.2 5.2l-5.2 -5.2zM1100.9 714.7l5.2 5.2l-5.2 5.2l-5.2 -5.2zM1166.0 714.7l5.2 5.2l-5.2 5.2l-5.2 -5.2zM1498.3 714.7l5.2 5.2l-5.2 5.2l-5.2 -5.2zM853.3 708.9l5.2 5.2l-5.2 5.2l-5.2 -5.2zM930.3 708.9l5.2 5.2l-5.2 5.2l-5.2 -5.2zM1006.5 708.9l5.2 5.2l-5.2 5.2l-5.2 -5.2zM1011.2 708.9l5.2 5.2l-5.2 5.2l-5.2 -5.2zM1026.7 708.9l5.2 5.2l-5.2 5.2l-5.2 -5.2zM1071.0 708.9l5.2 5.2l-5.2 5.2l-5.2 -5.2zM1094.4 708.9l5.2 5.2l-5.2 5.2l-5.2 -5.2zM1133.5 708.9l5.2 5.2l-5.2 5.2l-5.2 -5.2zM1200.7 708.9l5.2 5.2l-5.2 5.2l-5.2 -5.2zM1309.5 708.9l5.2 5.2l-5.2 5.2l-5.2 -5.2zM858.9 703.4l5.2 5.2l-5.2 5.2l-5.2 -5.2zM884.4 703.4l5.2 5.2l-5.2 5.2l-5.2 -5.2zM937.5 703.4l5.2 5.2l-5.2 5.2l-5.2 -5.2zM969.6 703.4l5.2 5.2l-5.2 5.2l-5.2 -5.2zM994.2 703.4l5.2 5.2l-5.2 5.2l-5.2 -5.2zM1024.6 703.4l5.2 5.2l-5.2 5.2l-5.2 -5.2zM1121.5 703.4l5.2 5.2l-5.2 5.2l-5.2 -5.2zM1131.3 703.4l5.2 5.2l-5.2 5.2l-5.2 -5.2zM1379.9 703.4l5.2 5.2l-5.2 5.2l-5.2 -5.2zM869.6 698.0l5.2 5.2l-5.2 5.2l-5.2 -5.2zM957.4 698.0l5.2 5.2l-5.2 5.2l-5.2 -5.2zM978.2 698.0l5.2 5.2l-5.2 5.2l-5.2 -5.2zM994.2 698.0l5.2 5.2l-5.2 5.2l-5.2 -5.2zM1011.2 698.0l5.2 5.2l-5.2 5.2l-5.2 -5.2zM1095.5 698.0l5.2 5.2l-5.2 5.2l-5.2 -5.2zM1148.0 698.0l5.2 5.2l-5.2 5.2l-5.2 -5.2zM1168.6 698.0l5.2 5.2l-5.2 5.2l-5.2 -5.2zM1310.8 698.0l5.2 5.2l-5.2 5.2l-5.2 -5.2zM1339.8 698.0l5.2 5.2l-5.2 5.2l-5.2 -5.2zM1474.9 698.0l5.2 5.2l-5.2 5.2l-5.2 -5.2zM884.4 692.9l5.2 5.2l-5.2 5.2l-5.2 -5.2zM1072.8 692.9l5.2 5.2l-5.2 5.2l-5.2 -5.2zM1083.6 692.9l5.2 5.2l-5.2 5.2l-5.2 -5.2zM1103.8 692.9l5.2 5.2l-5.2 5.2l-5.2 -5.2zM1147.6 692.9l5.2 5.2l-5.2 5.2l-5.2 -5.2zM933.9 688.0l5.2 5.2l-5.2 5.2l-5.2 -5.2zM991.6 688.0l5.2 5.2l-5.2 5.2l-5.2 -5.2zM1103.8 688.0l5.2 5.2l-5.2 5.2l-5.2 -5.2zM1125.9 688.0l5.2 5.2l-5.2 5.2l-5.2 -5.2zM1233.8 688.0l5.2 5.2l-5.2 5.2l-5.2 -5.2zM996.7 683.2l5.2 5.2l-5.2 5.2l-5.2 -5.2zM1008.8 683.2l5.2 5.2l-5.2 5.2l-5.2 -5.2zM1013.5 683.2l5.2 5.2l-5.2 5.2l-5.2 -5.2zM1018.0 683.2l5.2 5.2l-5.2 5.2l-5.2 -5.2zM1026.7 683.2l5.2 5.2l-5.2 5.2l-5.2 -5.2zM1040.9 683.2l5.2 5.2l-5.2 5.2l-5.2 -5.2zM1127.0 683.2l5.2 5.2l-5.2 5.2l-5.2 -5.2zM1135.6 683.2l5.2 5.2l-5.2 5.2l-5.2 -5.2zM1153.0 683.2l5.2 5.2l-5.2 5.2l-5.2 -5.2zM1184.4 683.2l5.2 5.2l-5.2 5.2l-5.2 -5.2zM1248.4 683.2l5.2 5.2l-5.2 5.2l-5.2 -5.2zM893.7 678.6l5.2 5.2l-5.2 5.2l-5.2 -5.2zM1046.7 678.6l5.2 5.2l-5.2 5.2l-5.2 -5.2zM1137.8 678.6l5.2 5.2l-5.2 5.2l-5.2 -5.2zM1274.8 678.6l5.2 5.2l-5.2 5.2l-5.2 -5.2zM1310.1 678.6l5.2 5.2l-5.2 5.2l-5.2 -5.2zM858.9 674.2l5.2 5.2l-5.2 5.2l-5.2 -5.2zM869.6 674.2l5.2 5.2l-5.2 5.2l-5.2 -5.2zM906.8 674.2l5.2 5.2l-5.2 5.2l-5.2 -5.2zM1020.2 674.2l5.2 5.2l-5.2 5.2l-5.2 -5.2zM1159.5 674.2l5.2 5.2l-5.2 5.2l-5.2 -5.2zM1233.2 674.2l5.2 5.2l-5.2 5.2l-5.2 -5.2zM1306.9 674.2l5.2 5.2l-5.2 5.2l-5.2 -5.2zM947.7 669.9l5.2 5.2l-5.2 5.2l-5.2 -5.2zM954.2 669.9l5.2 5.2l-5.2 5.2l-5.2 -5.2zM1069.5 669.9l5.2 5.2l-5.2 5.2l-5.2 -5.2zM1144.3 669.9l5.2 5.2l-5.2 5.2l-5.2 -5.2zM1162.7 669.9l5.2 5.2l-5.2 5.2l-5.2 -5.2zM922.8 665.7l5.2 5.2l-5.2 5.2l-5.2 -5.2zM966.6 665.7l5.2 5.2l-5.2 5.2l-5.2 -5.2zM1024.6 665.7l5.2 5.2l-5.2 5.2l-5.2 -5.2zM1121.5 665.7l5.2 5.2l-5.2 5.2l-5.2 -5.2zM1246.2 665.7l5.2 5.2l-5.2 5.2l-5.2 -5.2zM963.6 661.7l5.2 5.2l-5.2 5.2l-5.2 -5.2zM980.9 661.7l5.2 5.2l-5.2 5.2l-5.2 -5.2zM986.3 661.7l5.2 5.2l-5.2 5.2l-5.2 -5.2zM1227.8 661.7l5.2 5.2l-5.2 5.2l-5.2 -5.2zM1379.5 661.7l5.2 5.2l-5.2 5.2l-5.2 -5.2zM926.6 654.0l5.2 5.2l-5.2 5.2l-5.2 -5.2zM986.3 654.0l5.2 5.2l-5.2 5.2l-5.2 -5.2zM1069.5 654.0l5.2 5.2l-5.2 5.2l-5.2 -5.2zM1109.6 654.0l5.2 5.2l-5.2 5.2l-5.2 -5.2zM1113.9 654.0l5.2 5.2l-5.2 5.2l-5.2 -5.2zM1117.2 654.0l5.2 5.2l-5.2 5.2l-5.2 -5.2zM983.7 650.4l5.2 5.2l-5.2 5.2l-5.2 -5.2zM1317.7 650.4l5.2 5.2l-5.2 5.2l-5.2 -5.2zM1349.6 657.8l5.2 5.2l-5.2 5.2l-5.2 -5.2zM1441.9 657.8l5.2 5.2l-5.2 5.2l-5.2 -5.2zM1091.2 643.3l5.2 5.2l-5.2 5.2l-5.2 -5.2zM1151.9 643.3l5.2 5.2l-5.2 5.2l-5.2 -5.2zM1229.5 643.3l5.2 5.2l-5.2 5.2l-5.2 -5.2zM1313.0 643.3l5.2 5.2l-5.2 5.2l-5.2 -5.2zM1262.4 639.9l5.2 5.2l-5.2 5.2l-5.2 -5.2zM1355.7 639.9l5.2 5.2l-5.2 5.2l-5.2 -5.2zM1455.4 639.9l5.2 5.2l-5.2 5.2l-5.2 -5.2zM1115.0 636.6l5.2 5.2l-5.2 5.2l-5.2 -5.2zM1130.2 636.6l5.2 5.2l-5.2 5.2l-5.2 -5.2zM1185.5 636.6l5.2 5.2l-5.2 5.2l-5.2 -5.2zM1190.9 636.6l5.2 5.2l-5.2 5.2l-5.2 -5.2zM1246.2 636.6l5.2 5.2l-5.2 5.2l-5.2 -5.2zM1350.2 636.6l5.2 5.2l-5.2 5.2l-5.2 -5.2zM1396.2 636.6l5.2 5.2l-5.2 5.2l-5.2 -5.2zM248.7 1381.2l5.2 5.2l-5.2 5.2l-5.2 -5.2zM370.7 1381.2l5.2 5.2l-5.2 5.2l-5.2 -5.2zM442.1 1381.2l5.2 5.2l-5.2 5.2l-5.2 -5.2zM492.8 1381.2l5.2 5.2l-5.2 5.2l-5.2 -5.2zM532.1 1381.2l5.2 5.2l-5.2 5.2l-5.2 -5.2zM564.2 1381.2l5.2 5.2l-5.2 5.2l-5.2 -5.2zM591.3 1381.2l5.2 5.2l-5.2 5.2l-5.2 -5.2zM614.8 1381.2l5.2 5.2l-5.2 5.2l-5.2 -5.2zM635.5 1381.2l5.2 5.2l-5.2 5.2l-5.2 -5.2zM654.1 1381.2l5.2 5.2l-5.2 5.2l-5.2 -5.2zM670.9 1381.2l5.2 5.2l-5.2 5.2l-5.2 -5.2zM686.2 1381.2l5.2 5.2l-5.2 5.2l-5.2 -5.2zM700.3 1381.2l5.2 5.2l-5.2 5.2l-5.2 -5.2zM713.3 1381.2l5.2 5.2l-5.2 5.2l-5.2 -5.2zM725.5 1381.2l5.2 5.2l-5.2 5.2l-5.2 -5.2zM736.9 1381.2l5.2 5.2l-5.2 5.2l-5.2 -5.2zM747.5 1381.2l5.2 5.2l-5.2 5.2l-5.2 -5.2zM757.6 1381.2l5.2 5.2l-5.2 5.2l-5.2 -5.2zM767.1 1381.2l5.2 5.2l-5.2 5.2l-5.2 -5.2zM776.1 1381.2l5.2 5.2l-5.2 5.2l-5.2 -5.2zM784.7 1381.2l5.2 5.2l-5.2 5.2l-5.2 -5.2zM792.9 1381.2l5.2 5.2l-5.2 5.2l-5.2 -5.2zM800.7 1381.2l5.2 5.2l-5.2 5.2l-5.2 -5.2zM808.2 1381.2l5.2 5.2l-5.2 5.2l-5.2 -5.2zM815.4 1381.2l5.2 5.2l-5.2 5.2l-5.2 -5.2zM822.3 1381.2l5.2 5.2l-5.2 5.2l-5.2 -5.2zM829.0 1381.2l5.2 5.2l-5.2 5.2l-5.2 -5.2zM835.4 1381.2l5.2 5.2l-5.2 5.2l-5.2 -5.2zM841.6 1381.2l5.2 5.2l-5.2 5.2l-5.2 -5.2zM847.5 1381.2l5.2 5.2l-5.2 5.2l-5.2 -5.2zM853.3 1381.2l5.2 5.2l-5.2 5.2l-5.2 -5.2zM858.9 1381.2l5.2 5.2l-5.2 5.2l-5.2 -5.2zM864.3 1381.2l5.2 5.2l-5.2 5.2l-5.2 -5.2zM869.6 1381.2l5.2 5.2l-5.2 5.2l-5.2 -5.2zM874.7 1381.2l5.2 5.2l-5.2 5.2l-5.2 -5.2zM879.6 1381.2l5.2 5.2l-5.2 5.2l-5.2 -5.2zM884.4 1381.2l5.2 5.2l-5.2 5.2l-5.2 -5.2zM889.1 1381.2l5.2 5.2l-5.2 5.2l-5.2 -5.2zM893.7 1381.2l5.2 5.2l-5.2 5.2l-5.2 -5.2zM898.2 1381.2l5.2 5.2l-5.2 5.2l-5.2 -5.2zM902.5 1381.2l5.2 5.2l-5.2 5.2l-5.2 -5.2zM906.8 1381.2l5.2 5.2l-5.2 5.2l-5.2 -5.2zM910.9 1381.2l5.2 5.2l-5.2 5.2l-5.2 -5.2zM915.0 1381.2l5.2 5.2l-5.2 5.2l-5.2 -5.2zM918.9 1381.2l5.2 5.2l-5.2 5.2l-5.2 -5.2zM922.8 1381.2l5.2 5.2l-5.2 5.2l-5.2 -5.2zM926.6 1381.2l5.2 5.2l-5.2 5.2l-5.2 -5.2zM930.3 1381.2l5.2 5.2l-5.2 5.2l-5.2 -5.2zM933.9 1381.2l5.2 5.2l-5.2 5.2l-5.2 -5.2zM937.5 1381.2l5.2 5.2l-5.2 5.2l-5.2 -5.2zM940.9 1381.2l5.2 5.2l-5.2 5.2l-5.2 -5.2zM944.4 1381.2l5.2 5.2l-5.2 5.2l-5.2 -5.2zM947.7 1381.2l5.2 5.2l-5.2 5.2l-5.2 -5.2zM951.0 1381.2l5.2 5.2l-5.2 5.2l-5.2 -5.2zM954.2 1381.2l5.2 5.2l-5.2 5.2l-5.2 -5.2zM957.4 1381.2l5.2 5.2l-5.2 5.2l-5.2 -5.2zM960.5 1381.2l5.2 5.2l-5.2 5.2l-5.2 -5.2zM963.6 1381.2l5.2 5.2l-5.2 5.2l-5.2 -5.2zM966.6 1381.2l5.2 5.2l-5.2 5.2l-5.2 -5.2zM969.6 1381.2l5.2 5.2l-5.2 5.2l-5.2 -5.2zM972.5 1381.2l5.2 5.2l-5.2 5.2l-5.2 -5.2zM975.3 1381.2l5.2 5.2l-5.2 5.2l-5.2 -5.2zM978.2 1381.2l5.2 5.2l-5.2 5.2l-5.2 -5.2zM980.9 1381.2l5.2 5.2l-5.2 5.2l-5.2 -5.2zM983.7 1381.2l5.2 5.2l-5.2 5.2l-5.2 -5.2zM986.3 1381.2l5.2 5.2l-5.2 5.2l-5.2 -5.2zM989.0 1381.2l5.2 5.2l-5.2 5.2l-5.2 -5.2zM991.6 1381.2l5.2 5.2l-5.2 5.2l-5.2 -5.2zM994.2 1381.2l5.2 5.2l-5.2 5.2l-5.2 -5.2zM996.7 1381.2l5.2 5.2l-5.2 5.2l-5.2 -5.2zM999.2 1381.2l5.2 5.2l-5.2 5.2l-5.2 -5.2zM1001.7 1381.2l5.2 5.2l-5.2 5.2l-5.2 -5.2zM1004.1 1381.2l5.2 5.2l-5.2 5.2l-5.2 -5.2zM1006.5 1381.2l5.2 5.2l-5.2 5.2l-5.2 -5.2zM1008.8 1381.2l5.2 5.2l-5.2 5.2l-5.2 -5.2zM1011.2 1381.2l5.2 5.2l-5.2 5.2l-5.2 -5.2zM1013.5 1381.2l5.2 5.2l-5.2 5.2l-5.2 -5.2zM1015.8 1381.2l5.2 5.2l-5.2 5.2l-5.2 -5.2zM1020.2 1381.2l5.2 5.2l-5.2 5.2l-5.2 -5.2zM1022.4 1381.2l5.2 5.2l-5.2 5.2l-5.2 -5.2zM1024.6 1381.2l5.2 5.2l-5.2 5.2l-5.2 -5.2zM1026.7 1381.2l5.2 5.2l-5.2 5.2l-5.2 -5.2zM1028.8 1381.2l5.2 5.2l-5.2 5.2l-5.2 -5.2zM1030.9 1381.2l5.2 5.2l-5.2 5.2l-5.2 -5.2zM1032.9 1381.2l5.2 5.2l-5.2 5.2l-5.2 -5.2zM1035.0 1381.2l5.2 5.2l-5.2 5.2l-5.2 -5.2zM1037.0 1381.2l5.2 5.2l-5.2 5.2l-5.2 -5.2zM1039.0 1381.2l5.2 5.2l-5.2 5.2l-5.2 -5.2zM1040.9 1381.2l5.2 5.2l-5.2 5.2l-5.2 -5.2zM1042.9 1381.2l5.2 5.2l-5.2 5.2l-5.2 -5.2zM1044.8 1381.2l5.2 5.2l-5.2 5.2l-5.2 -5.2zM1046.7 1381.2l5.2 5.2l-5.2 5.2l-5.2 -5.2zM1048.6 1381.2l5.2 5.2l-5.2 5.2l-5.2 -5.2zM1050.5 1381.2l5.2 5.2l-5.2 5.2l-5.2 -5.2zM1052.3 1381.2l5.2 5.2l-5.2 5.2l-5.2 -5.2zM1054.1 1381.2l5.2 5.2l-5.2 5.2l-5.2 -5.2zM1055.9 1381.2l5.2 5.2l-5.2 5.2l-5.2 -5.2zM1057.7 1381.2l5.2 5.2l-5.2 5.2l-5.2 -5.2zM1059.5 1381.2l5.2 5.2l-5.2 5.2l-5.2 -5.2zM1061.3 1381.2l5.2 5.2l-5.2 5.2l-5.2 -5.2zM1063.0 1381.2l5.2 5.2l-5.2 5.2l-5.2 -5.2zM1064.7 1381.2l5.2 5.2l-5.2 5.2l-5.2 -5.2zM1066.4 1381.2l5.2 5.2l-5.2 5.2l-5.2 -5.2zM1068.1 1381.2l5.2 5.2l-5.2 5.2l-5.2 -5.2zM1069.8 1381.2l5.2 5.2l-5.2 5.2l-5.2 -5.2zM1071.4 1381.2l5.2 5.2l-5.2 5.2l-5.2 -5.2zM1073.0 1381.2l5.2 5.2l-5.2 5.2l-5.2 -5.2zM1074.7 1381.2l5.2 5.2l-5.2 5.2l-5.2 -5.2zM1076.3 1381.2l5.2 5.2l-5.2 5.2l-5.2 -5.2zM1077.9 1381.2l5.2 5.2l-5.2 5.2l-5.2 -5.2zM1079.5 1381.2l5.2 5.2l-5.2 5.2l-5.2 -5.2zM1081.0 1381.2l5.2 5.2l-5.2 5.2l-5.2 -5.2zM1082.6 1381.2l5.2 5.2l-5.2 5.2l-5.2 -5.2zM1084.1 1381.2l5.2 5.2l-5.2 5.2l-5.2 -5.2zM1085.6 1381.2l5.2 5.2l-5.2 5.2l-5.2 -5.2zM1087.1 1381.2l5.2 5.2l-5.2 5.2l-5.2 -5.2zM1088.6 1381.2l5.2 5.2l-5.2 5.2l-5.2 -5.2zM1090.1 1381.2l5.2 5.2l-5.2 5.2l-5.2 -5.2zM1091.6 1381.2l5.2 5.2l-5.2 5.2l-5.2 -5.2zM1093.1 1381.2l5.2 5.2l-5.2 5.2l-5.2 -5.2zM1094.5 1381.2l5.2 5.2l-5.2 5.2l-5.2 -5.2zM1095.9 1381.2l5.2 5.2l-5.2 5.2l-5.2 -5.2zM1097.4 1381.2l5.2 5.2l-5.2 5.2l-5.2 -5.2zM1098.8 1381.2l5.2 5.2l-5.2 5.2l-5.2 -5.2zM1100.2 1381.2l5.2 5.2l-5.2 5.2l-5.2 -5.2zM1101.6 1381.2l5.2 5.2l-5.2 5.2l-5.2 -5.2zM1103.0 1381.2l5.2 5.2l-5.2 5.2l-5.2 -5.2zM1104.3 1381.2l5.2 5.2l-5.2 5.2l-5.2 -5.2zM1105.7 1381.2l5.2 5.2l-5.2 5.2l-5.2 -5.2zM1107.0 1381.2l5.2 5.2l-5.2 5.2l-5.2 -5.2zM1108.4 1381.2l5.2 5.2l-5.2 5.2l-5.2 -5.2zM1109.7 1381.2l5.2 5.2l-5.2 5.2l-5.2 -5.2zM1111.0 1381.2l5.2 5.2l-5.2 5.2l-5.2 -5.2zM1112.3 1381.2l5.2 5.2l-5.2 5.2l-5.2 -5.2zM1113.6 1381.2l5.2 5.2l-5.2 5.2l-5.2 -5.2zM1114.9 1381.2l5.2 5.2l-5.2 5.2l-5.2 -5.2zM1116.2 1381.2l5.2 5.2l-5.2 5.2l-5.2 -5.2zM1117.5 1381.2l5.2 5.2l-5.2 5.2l-5.2 -5.2zM1118.7 1381.2l5.2 5.2l-5.2 5.2l-5.2 -5.2zM1120.0 1381.2l5.2 5.2l-5.2 5.2l-5.2 -5.2zM1121.2 1381.2l5.2 5.2l-5.2 5.2l-5.2 -5.2zM1122.5 1381.2l5.2 5.2l-5.2 5.2l-5.2 -5.2zM1123.7 1381.2l5.2 5.2l-5.2 5.2l-5.2 -5.2zM1124.9 1381.2l5.2 5.2l-5.2 5.2l-5.2 -5.2zM1126.1 1381.2l5.2 5.2l-5.2 5.2l-5.2 -5.2zM1127.3 1381.2l5.2 5.2l-5.2 5.2l-5.2 -5.2zM1128.5 1381.2l5.2 5.2l-5.2 5.2l-5.2 -5.2zM1129.7 1381.2l5.2 5.2l-5.2 5.2l-5.2 -5.2zM1130.9 1381.2l5.2 5.2l-5.2 5.2l-5.2 -5.2zM1132.1 1381.2l5.2 5.2l-5.2 5.2l-5.2 -5.2zM1133.2 1381.2l5.2 5.2l-5.2 5.2l-5.2 -5.2zM1134.4 1381.2l5.2 5.2l-5.2 5.2l-5.2 -5.2zM1135.5 1381.2l5.2 5.2l-5.2 5.2l-5.2 -5.2zM1136.7 1381.2l5.2 5.2l-5.2 5.2l-5.2 -5.2zM1137.8 1381.2l5.2 5.2l-5.2 5.2l-5.2 -5.2zM1138.9 1381.2l5.2 5.2l-5.2 5.2l-5.2 -5.2zM1140.0 1381.2l5.2 5.2l-5.2 5.2l-5.2 -5.2zM1141.1 1381.2l5.2 5.2l-5.2 5.2l-5.2 -5.2zM1142.3 1381.2l5.2 5.2l-5.2 5.2l-5.2 -5.2zM1143.3 1381.2l5.2 5.2l-5.2 5.2l-5.2 -5.2zM1144.4 1381.2l5.2 5.2l-5.2 5.2l-5.2 -5.2zM1145.5 1381.2l5.2 5.2l-5.2 5.2l-5.2 -5.2zM1146.6 1381.2l5.2 5.2l-5.2 5.2l-5.2 -5.2zM1147.7 1381.2l5.2 5.2l-5.2 5.2l-5.2 -5.2zM1148.7 1381.2l5.2 5.2l-5.2 5.2l-5.2 -5.2zM1149.8 1381.2l5.2 5.2l-5.2 5.2l-5.2 -5.2zM1150.8 1381.2l5.2 5.2l-5.2 5.2l-5.2 -5.2zM1151.9 1381.2l5.2 5.2l-5.2 5.2l-5.2 -5.2zM1152.9 1381.2l5.2 5.2l-5.2 5.2l-5.2 -5.2zM1154.0 1381.2l5.2 5.2l-5.2 5.2l-5.2 -5.2zM1155.0 1381.2l5.2 5.2l-5.2 5.2l-5.2 -5.2zM1156.0 1381.2l5.2 5.2l-5.2 5.2l-5.2 -5.2zM1157.0 1381.2l5.2 5.2l-5.2 5.2l-5.2 -5.2zM1158.0 1381.2l5.2 5.2l-5.2 5.2l-5.2 -5.2zM1159.0 1381.2l5.2 5.2l-5.2 5.2l-5.2 -5.2zM1160.0 1381.2l5.2 5.2l-5.2 5.2l-5.2 -5.2zM1161.0 1381.2l5.2 5.2l-5.2 5.2l-5.2 -5.2zM1162.0 1381.2l5.2 5.2l-5.2 5.2l-5.2 -5.2zM1163.0 1381.2l5.2 5.2l-5.2 5.2l-5.2 -5.2zM1164.0 1381.2l5.2 5.2l-5.2 5.2l-5.2 -5.2zM1164.9 1381.2l5.2 5.2l-5.2 5.2l-5.2 -5.2zM1165.9 1381.2l5.2 5.2l-5.2 5.2l-5.2 -5.2zM1166.9 1381.2l5.2 5.2l-5.2 5.2l-5.2 -5.2zM1167.8 1381.2l5.2 5.2l-5.2 5.2l-5.2 -5.2zM1168.8 1381.2l5.2 5.2l-5.2 5.2l-5.2 -5.2zM1169.7 1381.2l5.2 5.2l-5.2 5.2l-5.2 -5.2zM1170.6 1381.2l5.2 5.2l-5.2 5.2l-5.2 -5.2zM1171.6 1381.2l5.2 5.2l-5.2 5.2l-5.2 -5.2zM1172.5 1381.2l5.2 5.2l-5.2 5.2l-5.2 -5.2zM1173.4 1381.2l5.2 5.2l-5.2 5.2l-5.2 -5.2zM1174.4 1381.2l5.2 5.2l-5.2 5.2l-5.2 -5.2zM1175.3 1381.2l5.2 5.2l-5.2 5.2l-5.2 -5.2zM1176.2 1381.2l5.2 5.2l-5.2 5.2l-5.2 -5.2zM1177.1 1381.2l5.2 5.2l-5.2 5.2l-5.2 -5.2zM1178.0 1381.2l5.2 5.2l-5.2 5.2l-5.2 -5.2zM1178.9 1381.2l5.2 5.2l-5.2 5.2l-5.2 -5.2zM1179.8 1381.2l5.2 5.2l-5.2 5.2l-5.2 -5.2zM1188.0 1381.2l5.2 5.2l-5.2 5.2l-5.2 -5.2zM1191.0 1381.2l5.2 5.2l-5.2 5.2l-5.2 -5.2zM1195.0 1381.2l5.2 5.2l-5.2 5.2l-5.2 -5.2zM1198.0 1381.2l5.2 5.2l-5.2 5.2l-5.2 -5.2zM1202.0 1381.2l5.2 5.2l-5.2 5.2l-5.2 -5.2zM1205.0 1381.2l5.2 5.2l-5.2 5.2l-5.2 -5.2zM1209.0 1381.2l5.2 5.2l-5.2 5.2l-5.2 -5.2zM1212.0 1381.2l5.2 5.2l-5.2 5.2l-5.2 -5.2zM1216.0 1381.2l5.2 5.2l-5.2 5.2l-5.2 -5.2zM1218.0 1381.2l5.2 5.2l-5.2 5.2l-5.2 -5.2zM1223.0 1381.2l5.2 5.2l-5.2 5.2l-5.2 -5.2zM1226.0 1381.2l5.2 5.2l-5.2 5.2l-5.2 -5.2zM1230.0 1381.2l5.2 5.2l-5.2 5.2l-5.2 -5.2zM1233.0 1381.2l5.2 5.2l-5.2 5.2l-5.2 -5.2zM1237.0 1381.2l5.2 5.2l-5.2 5.2l-5.2 -5.2zM1240.0 1381.2l5.2 5.2l-5.2 5.2l-5.2 -5.2zM1244.0 1381.2l5.2 5.2l-5.2 5.2l-5.2 -5.2zM1247.0 1381.2l5.2 5.2l-5.2 5.2l-5.2 -5.2zM1251.0 1381.2l5.2 5.2l-5.2 5.2l-5.2 -5.2zM1254.0 1381.2l5.2 5.2l-5.2 5.2l-5.2 -5.2zM1258.0 1381.2l5.2 5.2l-5.2 5.2l-5.2 -5.2zM1261.0 1381.2l5.2 5.2l-5.2 5.2l-5.2 -5.2zM1264.8 1381.2l5.2 5.2l-5.2 5.2l-5.2 -5.2zM1268.6 1381.2l5.2 5.2l-5.2 5.2l-5.2 -5.2zM1277.5 1381.2l5.2 5.2l-5.2 5.2l-5.2 -5.2zM1279.5 1381.2l5.2 5.2l-5.2 5.2l-5.2 -5.2zM1288.6 1381.2l5.2 5.2l-5.2 5.2l-5.2 -5.2zM1302.5 1381.2l5.2 5.2l-5.2 5.2l-5.2 -5.2zM1310.5 1381.2l5.2 5.2l-5.2 5.2l-5.2 -5.2zM1313.5 1381.2l5.2 5.2l-5.2 5.2l-5.2 -5.2zM1325.0 1381.2l5.2 5.2l-5.2 5.2l-5.2 -5.2zM1329.0 1381.2l5.2 5.2l-5.2 5.2l-5.2 -5.2zM1331.0 1381.2l5.2 5.2l-5.2 5.2l-5.2 -5.2zM1338.7 1381.2l5.2 5.2l-5.2 5.2l-5.2 -5.2zM1353.0 1381.2l5.2 5.2l-5.2 5.2l-5.2 -5.2zM1356.0 1381.2l5.2 5.2l-5.2 5.2l-5.2 -5.2zM1362.9 1381.2l5.2 5.2l-5.2 5.2l-5.2 -5.2zM1366.6 1381.2l5.2 5.2l-5.2 5.2l-5.2 -5.2zM1372.7 1381.2l5.2 5.2l-5.2 5.2l-5.2 -5.2zM1381.0 1381.2l5.2 5.2l-5.2 5.2l-5.2 -5.2zM1399.0 1381.2l5.2 5.2l-5.2 5.2l-5.2 -5.2zM1420.6 1381.2l5.2 5.2l-5.2 5.2l-5.2 -5.2zM1455.2 1381.2l5.2 5.2l-5.2 5.2l-5.2 -5.2zM1477.4 1381.2l5.2 5.2l-5.2 5.2l-5.2 -5.2zM1518.7 1381.2l5.2 5.2l-5.2 5.2l-5.2 -5.2zM1523.6 1381.2l5.2 5.2l-5.2 5.2l-5.2 -5.2zM1585.3 1381.2l5.2 5.2l-5.2 5.2l-5.2 -5.2zM1593.6 1381.2l5.2 5.2l-5.2 5.2l-5.2 -5.2zM1631.6 1381.2l5.2 5.2l-5.2 5.2l-5.2 -5.2zM1649.6 1381.2l5.2 5.2l-5.2 5.2l-5.2 -5.2zM1672.7 1381.2l5.2 5.2l-5.2 5.2l-5.2 -5.2z" fill="#000"/>
<path d="M248.7 1255.2L278.4 1238.1L308.1 1220.9L337.9 1203.8L367.6 1186.6L397.3 1169.5L427.0 1152.3L456.7 1135.2L486.4 1118.0L516.2 1100.8L545.9 1083.7L575.6 1066.5L605.3 1049.3L635.0 1032.1L664.8 1014.9L694.5 997.7L724.2 980.5L753.9 963.3L783.6 946.0L813.3 928.8L843.1 911.5L872.8 894.2L902.5 876.8L932.2 859.4L961.9 841.9L991.7 824.4L1021.4 806.8L1051.1 789.1L1080.8 771.2L1110.5 753.2L1140.2 735.0L1170.0 716.7L1199.7 698.3L1229.4 679.6L1259.1 660.9L1288.8 642.1L1318.6 623.1L1348.3 604.1L1378.0 585.1L1407.7 566.0L1437.4 546.8L1467.2 527.7L1496.9 508.5L1526.6 489.3L1556.3 470.1L1586.0 450.8L1615.7 431.6L1645.5 412.3L1675.2 393.1L1704.9 373.8L1734.6 354.5L1764.3 335.2L1794.1 316.0L1823.8 296.7L1853.5 277.4L1883.2 258.1L1912.9 238.8L1942.6 219.5L1972.4 200.2L2002.1 180.8L2031.8 161.5L2031.8 230.3L2002.1 247.4L1972.4 264.5L1942.6 281.7L1912.9 298.8L1883.2 316.0L1853.5 333.1L1823.8 350.3L1794.1 367.4L1764.3 384.6L1734.6 401.8L1704.9 419.0L1675.2 436.1L1645.5 453.3L1615.7 470.5L1586.0 487.7L1556.3 504.9L1526.6 522.2L1496.9 539.4L1467.2 556.7L1437.4 574.0L1407.7 591.3L1378.0 608.6L1348.3 626.0L1318.6 643.5L1288.8 661.0L1259.1 678.6L1229.4 696.3L1199.7 714.1L1170.0 732.1L1140.2 750.3L1110.5 768.5L1080.8 787.0L1051.1 805.6L1021.4 824.3L991.7 843.1L961.9 862.1L932.2 881.1L902.5 900.1L872.8 919.2L843.1 938.3L813.3 957.5L783.6 976.7L753.9 995.9L724.2 1015.1L694.5 1034.3L664.8 1053.6L635.0 1072.8L605.3 1092.1L575.6 1111.3L545.9 1130.6L516.2 1149.9L486.4 1169.2L456.7 1188.5L427.0 1207.8L397.3 1227.1L367.6 1246.4L337.9 1265.7L308.1 1285.0L278.4 1304.3L248.7 1323.6z" fill="#999" fill-opacity="0.4"/>
<line x1="248.7" y1="1289.4" x2="2031.8" y2="195.9" stroke="#000" stroke-width="5.4"/>
</g>
<rect x="159.3" y="0" width="1962.7" height="0.9" fill="#e0e0e0"/>
<rect x="2121.3" y="0" width="0.7" height="1387.1000000000001" fill="#e0e0e0"/>
<rect x="160.0" y="1.6" width="1960.5" height="1384.8000000000002" fill="none" stroke="#222" stroke-width="1.5"/>
<line x1="248.7" x2="248.7" y1="1386.4" y2="1394.2" stroke="#2e2e2e" stroke-width="2.6"/>
<line x1="654.1" x2="654.1" y1="1386.4" y2="1394.2" stroke="#2e2e2e" stroke-width="2.6"/>
<line x1="1059.5" x2="1059.5" y1="1386.4" y2="1394.2" stroke="#2e2e2e" stroke-width="2.6"/>
<line x1="1464.9" x2="1464.9" y1="1386.4" y2="1394.2" stroke="#2e2e2e" stroke-width="2.6"/>
<line x1="1870.3" x2="1870.3" y1="1386.4" y2="1394.2" stroke="#2e2e2e" stroke-width="2.6"/>
<line y1="1124.0" y2="1124.0" x1="152.0" x2="160.0" stroke="#2e2e2e" stroke-width="2.6"/>
<line y1="823.0" y2="823.0" x1="152.0" x2="160.0" stroke="#2e2e2e" stroke-width="2.6"/>
<line y1="522.0" y2="522.0" x1="152.0" x2="160.0" stroke="#2e2e2e" stroke-width="2.6"/>
<line y1="221.0" y2="221.0" x1="152.0" x2="160.0" stroke="#2e2e2e" stroke-width="2.6"/>
<text x="248.7" y="1429.4" text-anchor="middle" font-size="40.6" fill="#4d4d4d">1</text>
<text x="654.1" y="1429.4" text-anchor="middle" font-size="40.6" fill="#4d4d4d">10</text>
<text x="1059.5" y="1429.4" text-anchor="middle" font-size="40.6" fill="#4d4d4d">100</text>
<text x="1464.9" y="1429.4" text-anchor="middle" font-size="40.6" fill="#4d4d4d">1000</text>
<text x="1870.3" y="1429.4" text-anchor="middle" font-size="40.6" fill="#4d4d4d">10000</text>
<text x="146.5" y="1138.6" text-anchor="end" font-size="40.6" fill="#4d4d4d">1</text>
<text x="146.5" y="837.6" text-anchor="end" font-size="40.6" fill="#4d4d4d">10</text>
<text x="146.5" y="536.6" text-anchor="end" font-size="40.6" fill="#4d4d4d">100</text>
<text x="146.5" y="235.6" text-anchor="end" font-size="40.6" fill="#4d4d4d">1000</text>
<text x="1139.8" y="1480.8" text-anchor="middle" font-size="51.05" fill="#000">Log Weekly New Cases Reported per UTLA</text>
<text transform="translate(38,694.5) rotate(-90)" text-anchor="middle" font-size="50.95" fill="#000">Log Weekly Number of Sequences per UTLA</text>
</svg>
</body></html>
